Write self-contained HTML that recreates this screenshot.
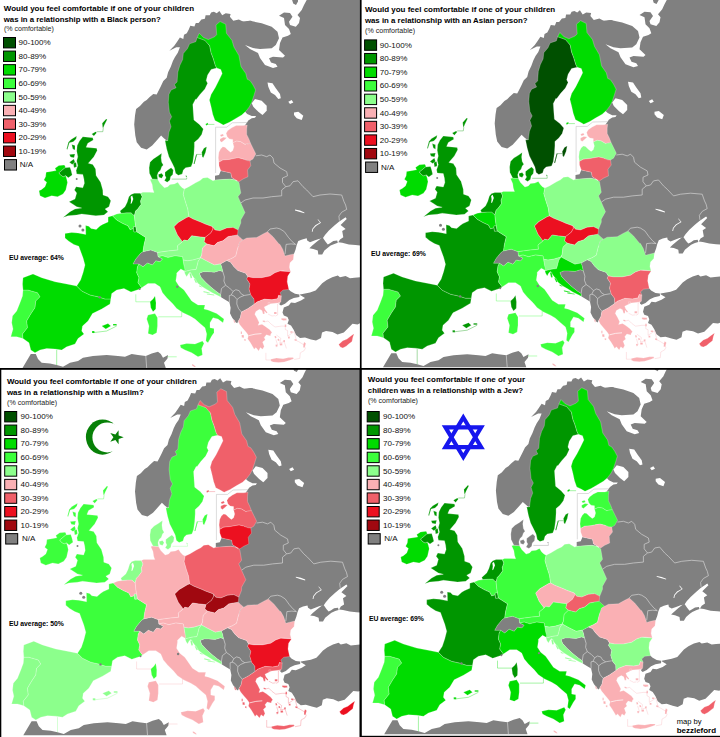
<!DOCTYPE html><html><head><meta charset="utf-8"><title>map</title><style>
html,body{margin:0;padding:0;background:#fff}svg{display:block}text{font-family:"Liberation Sans",sans-serif;fill:#000}.tt{font-size:8.1px;font-weight:bold}.sub{font-size:7.4px;fill:#222}.lb{font-size:8px;fill:#111}.avg{font-size:6.9px;font-weight:bold}.cr{font-size:7.8px}.crb{font-weight:bold}
</style></head><body>
<svg width="720" height="737" viewBox="0 0 720 737">
<rect width="720" height="737" fill="#fff"/>
<clipPath id="c0"><rect x="0" y="0" width="360" height="368.2"/></clipPath>
<g clip-path="url(#c0)"><g transform="translate(0,0)">
<path d="M252.0,21.0 250.0,20.8 244.4,22.2 238.9,19.4 233.3,20.8 229.9,16.7 230.6,13.9 225.7,13.2 222.2,15.3 219.4,11.1 216.7,13.2 213.9,11.8 211.1,12.5 209.7,15.3 205.6,15.3 204.9,18.8 201.4,19.4 198.6,22.9 195.8,22.9 194.4,26.4 190.3,25.7 188.9,29.2 186.8,33.3 184.0,34.7 183.3,38.9 179.9,37.5 177.1,41.7 174.3,45.8 169.4,50.7 176.4,47.2 179.9,47.2 177.8,52.8 175.0,56.9 172.9,61.1 170.8,66.7 168.1,72.2 166.7,77.8 163.3,81.1 160.6,86.7 157.8,92.2 156.7,94.4 153.3,93.9 149.4,97.2 146.7,100.0 143.9,101.7 140.0,106.1 136.1,108.9 135.0,115.6 134.2,124.4 135.3,135.6 136.7,142.2 141.1,147.8 146.7,149.4 152.2,145.6 156.7,140.6 161.1,135.6 163.9,138.3 166.7,140.6 172.0,138.0 178.0,118.0 178.0,98.0 184.0,80.0 188.0,62.0 195.0,48.0 204.0,44.0 214.0,44.0 222.0,38.0 230.0,34.0 240.0,32.0 252.0,32.0Z" fill="#808080"/>
<path d="M238.0,20.0 240.0,21.7 250.0,20.8 261.7,23.3 271.7,26.7 277.5,31.7 279.0,38.3 275.8,45.0 271.7,48.3 260.0,49.0 253.0,48.0 245.0,45.0 250.0,49.0 258.0,53.0 260.0,58.0 265.0,65.0 273.0,68.0 277.5,66.7 275.8,64.0 271.0,62.5 269.0,58.3 273.0,56.7 283.0,57.5 285.0,55.8 279.0,50.0 280.0,43.0 282.5,37.5 288.0,35.8 290.8,34.0 289.0,29.0 285.0,25.0 284.0,18.0 279.0,15.8 284.0,12.5 290.0,13.0 292.5,16.7 289.0,21.7 290.0,25.0 295.8,26.7 299.0,23.0 300.0,18.0 297.5,15.0 301.7,10.0 304.0,5.0 306.7,0.0 362.0,0.0 362.0,245.6 355.6,245.0 348.9,244.4 342.2,242.8 338.3,242.2 340.0,239.4 343.3,237.2 342.2,231.1 345.6,228.9 340.6,225.0 346.7,218.9 345.6,217.2 338.9,221.7 334.4,225.6 328.9,230.6 325.0,235.0 322.8,238.3 318.9,238.9 314.4,240.6 310.0,242.2 307.2,240.6 306.7,238.3 302.2,239.4 298.3,241.1 296.7,245.0 295.6,249.4 293.9,253.9 285.0,262.0 270.0,255.0 250.0,250.0 234.0,245.0 232.0,232.0 234.0,215.0 234.0,185.0 243.0,175.0 243.0,165.0 247.0,150.0 245.0,140.0 243.0,128.0 247.2,122.2 248.3,120.6 251.7,118.3 255.0,117.8 256.1,116.1 251.7,116.1 247.2,113.9 245.6,112.2 242.0,108.0 246.0,95.0 242.0,80.0 236.0,62.0 228.0,45.0 224.0,30.0ZM291.8,-1.0 293.2,3.5 296.0,4.9 298.0,1.4 298.0,-1.0ZM362.0,277.2 354.4,277.8 350.0,278.3 345.6,276.1 340.0,277.2 337.8,275.6 332.2,277.2 326.7,280.0 322.2,283.3 318.9,287.0 315.6,290.6 310.0,292.5 300.0,294.4 300.0,295.0 305.0,298.0 301.0,300.6 295.0,303.0 291.0,302.5 288.8,305.6 283.8,307.5 282.5,312.5 283.8,315.6 287.5,316.9 288.8,320.0 287.5,323.8 291.0,325.6 293.8,330.0 296.0,335.0 300.0,338.0 305.0,337.5 311.0,339.4 316.0,340.6 321.0,338.0 322.0,332.5 326.0,331.0 332.5,332.0 337.5,334.4 343.8,332.5 348.8,327.5 352.5,323.8 357.5,324.4 362.0,322.5ZM288.8,289.4 290.6,291.3 295.0,293.8 299.4,294.4 299.4,296.9 293.8,298.0 289.4,300.0 285.0,303.8 281.0,305.6 279.4,304.4 280.6,299.4 279.0,296.0 279.0,292.7 283.0,289.0 287.0,287.0Z" fill="#808080"/>
<path d="M322.2,237.5 316.7,241.7 312.2,245.6 309.4,248.3 313.3,248.9 317.8,250.6 318.3,254.4 322.2,254.4 324.4,250.6 327.8,247.8 330.6,245.6 334.4,243.9 337.8,242.8 337.2,240.6 333.3,241.1 330.0,243.3 327.8,244.4 325.6,241.7 323.2,238.3Z" fill="#808080"/>
<path d="M226.7,260.6 230.6,262.2 233.9,266.7 237.8,270.6 245.6,273.3 247.8,276.7 246.7,279.0 250.0,284.0 249.0,289.0 250.8,295.0 254.0,299.0 254.2,304.2 247.6,308.7 241.4,312.0 240.3,317.6 238.1,321.4 237.2,323.3 235.6,322.2 232.2,317.8 230.0,313.3 230.6,307.8 229.4,302.2 225.6,300.0 221.1,297.2 220.6,294.4 216.7,291.7 211.1,287.2 205.6,282.2 201.0,277.2 199.4,273.3 203.3,271.7 207.8,271.7 214.4,272.2 220.0,270.6 222.8,271.7 221.7,266.7 220.6,263.9Z" fill="#808080"/>
<path d="M133.0,264.0 135.8,259.0 140.8,253.0 143.0,251.7 150.8,250.0 157.5,252.5 158.0,256.7 162.5,259.0 160.0,261.7 155.8,260.8 152.5,265.0 147.5,263.0 143.0,266.7 139.0,264.0Z" fill="#808080"/>
<path d="M220.8,170.8 225.0,171.7 230.8,173.0 231.7,177.5 235.8,180.0 230.0,179.0 215.0,180.0 215.0,175.8 219.0,175.0Z" fill="#808080"/>
<path d="M22.5,368.0 30.8,354.0 35.8,354.0 38.0,359.0 41.7,362.7 50.0,363.5 56.7,365.0 63.0,366.8 70.0,362.7 78.0,361.0 83.0,357.7 93.0,356.0 106.7,355.0 118.0,356.0 125.0,356.8 131.7,354.0 138.0,355.0 145.8,356.0 151.7,353.5 158.0,351.8 160.8,354.0 163.0,357.7 168.0,355.0 167.5,358.5 164.0,362.7 165.8,368.0Z" fill="#808080"/>
<path d="M295.0,209.6 300.0,210.6 304.4,212.4 304.4,213.2 299.0,211.8 295.0,210.4Z" fill="#fff"/>
<path d="M318.0,219.2 321.0,222.8 316.0,225.9 313.2,229.0 312.6,231.7 311.8,231.7 312.4,228.7 315.3,225.3 320.0,222.6 317.6,219.6Z" fill="#fff"/>
<path d="M267.5,82.5 272.5,83.3 275.8,88.3 280.0,94.0 280.8,98.3 278.3,99.0 275.0,95.0 270.8,92.5 268.3,86.7Z" fill="#fff"/>
<path d="M255.0,99.0 261.7,100.8 266.7,105.8 266.7,110.8 262.5,115.0 258.3,111.7 253.3,106.7 251.7,103.3Z" fill="#fff"/>
<path d="M288.3,101.7 291.7,100.0 293.3,102.5 290.0,104.0Z" fill="#fff"/>
<path d="M294.0,112.5 298.3,111.7 303.3,115.8 301.7,120.0 296.7,118.3 294.0,115.0Z" fill="#fff"/>
<path d="M255.8,155.8 261.7,155.0 266.7,156.7 270.0,155.0 273.0,158.0 274.0,163.0 280.0,168.0 286.7,171.7 287.5,175.8 282.5,178.0 282.5,182.5 285.8,186.7" fill="none" stroke="#dadada" stroke-width="0.65"/>
<path d="M285.8,186.7 281.7,190.0 281.7,195.8 271.7,196.7 263.0,198.0 253.0,198.0 245.0,200.0 240.8,203.0" fill="none" stroke="#dadada" stroke-width="0.65"/>
<path d="M285.8,186.7 290.0,185.8 293.0,181.7 298.0,180.8 303.0,186.7 306.7,190.0 313.0,196.7 320.0,195.0 330.0,194.0 341.7,195.0 344.0,201.7 345.6,205.0 346.7,209.4 341.7,212.2 338.9,216.1 339.4,220.6" fill="none" stroke="#dadada" stroke-width="0.65"/>
<path d="M267.5,231.7 270.0,229.0 276.7,228.0 280.0,228.9 284.4,231.7 288.3,237.2 292.2,241.7 295.6,244.4" fill="none" stroke="#dadada" stroke-width="0.65"/>
<path d="M295.6,244.4 291.1,243.9 286.1,244.4 285.5,250.0 285.0,254.0" fill="none" stroke="#dadada" stroke-width="0.65"/>
<path d="M222.8,271.7 224.4,277.0 223.9,281.0 225.6,285.3 221.5,288.5 220.6,294.4" fill="none" stroke="#dadada" stroke-width="0.65"/>
<path d="M225.6,285.3 229.5,288.0 233.0,291.5 231.3,295.0 229.3,295.6 229.4,302.2" fill="none" stroke="#dadada" stroke-width="0.65"/>
<path d="M231.3,295.0 234.0,296.0 237.0,299.5 236.8,304.0 238.5,308.5 241.4,312.0" fill="none" stroke="#dadada" stroke-width="0.65"/>
<path d="M237.0,299.5 240.0,297.2 244.0,295.5 250.0,294.5" fill="none" stroke="#dadada" stroke-width="0.65"/>
<path d="M233.0,291.5 235.8,289.7 239.2,290.7 240.8,293.5 244.0,295.5" fill="none" stroke="#dadada" stroke-width="0.65"/>
<path d="M145.8,356.0 146.7,368.0" fill="none" stroke="#dadada" stroke-width="0.65"/>
<path d="M55.0,168.3 58.9,165.6 64.4,165.0 65.6,167.2 61.7,170.6 58.9,172.8 60.6,175.0 63.3,176.7 65.6,175.6 66.7,178.9 67.5,182.5 65.8,190.0 63.0,194.0 57.5,196.7 51.7,195.8 45.0,198.0 40.0,195.8 39.0,190.8 41.7,189.4 45.0,186.7 46.7,182.2 43.9,180.0 45.6,176.7 46.1,172.2 49.4,171.7 56.1,170.6Z" fill="#00dc00" stroke="rgba(255,255,255,0.45)" stroke-width="0.5" stroke-linejoin="round"/>
<path d="M82.8,136.7 92.8,137.8 93.3,140.0 87.8,143.3 86.1,147.2 96.7,148.3 97.2,150.6 93.9,156.7 91.1,160.0 88.3,163.3 92.8,164.4 95.6,168.9 96.1,175.6 100.6,182.2 102.8,190.0 103.0,195.0 108.0,196.7 110.8,200.8 109.0,206.7 105.0,209.0 108.0,211.7 104.0,215.0 95.8,215.8 90.0,215.0 81.7,214.0 76.7,215.0 68.0,215.8 63.0,217.5 70.0,211.7 75.0,209.0 81.7,208.0 76.7,206.7 72.5,204.0 69.0,201.7 75.0,199.0 76.7,193.0 74.4,190.0 76.1,186.7 82.8,187.8 84.4,183.3 83.9,178.9 82.8,174.4 76.7,173.9 76.1,170.6 77.8,165.6 76.7,161.1 77.8,156.7 76.7,151.1 77.2,145.6 79.4,141.1ZM58.9,172.8 61.7,170.6 65.0,167.8 70.0,167.2 71.1,170.6 72.2,175.0 68.3,177.8 65.6,175.6 63.3,176.7 60.6,175.0ZM91.7,133.9 95.6,131.7 96.7,132.8 93.9,136.1ZM102.2,123.3 106.1,118.9 107.2,119.4 104.4,125.0 103.3,127.8 102.6,127.5ZM71.1,139.4 76.7,136.1 76.1,138.9 73.3,141.7 69.4,142.8 67.4,149.4 66.6,149.0 68.4,142.2ZM71.7,144.4 75.0,145.6 75.0,150.0 72.8,148.9ZM69.4,154.4 75.0,153.9 74.0,157.8 70.5,157.0ZM69.4,162.2 73.9,158.9 75.0,162.2 72.2,164.4ZM73.3,163.3 76.1,162.2 76.7,166.7 74.0,167.8Z" fill="#009600" stroke="rgba(255,255,255,0.45)" stroke-width="0.5" stroke-linejoin="round"/>
<path d="M23.0,290.0 28.0,290.0 37.5,292.7 40.0,296.8 35.8,301.0 35.0,307.7 30.8,314.0 26.7,321.0 27.5,327.7 22.5,334.0 23.0,338.5 16.7,336.8 10.8,336.8 13.0,329.0 11.7,322.7 12.5,316.0 16.7,311.0 20.0,302.7 22.5,296.0Z" fill="#3cff3c" stroke="rgba(255,255,255,0.45)" stroke-width="0.5" stroke-linejoin="round"/>
<path d="M23.0,277.7 33.0,274.0 41.7,277.7 55.0,281.8 66.7,284.0 76.7,286.0 81.7,291.0 90.0,295.0 98.0,296.8 105.0,299.0 110.8,299.0 110.0,304.0 101.7,309.0 92.5,313.5 88.0,321.0 82.5,326.0 81.7,331.0 84.0,334.0 78.0,338.5 75.0,344.0 66.7,346.8 61.7,350.0 55.0,349.0 46.7,348.5 40.0,350.0 35.0,352.7 30.8,350.0 29.0,342.7 23.0,338.5 22.5,334.0 27.5,327.7 26.7,321.0 30.8,314.0 35.0,307.7 35.8,301.0 40.0,296.8 37.5,292.7 28.0,290.0 23.0,290.0 22.5,284.0ZM101.7,326.0 108.0,323.5 110.8,326.0 105.8,329.0ZM113.0,324.0 116.7,324.0 116.7,325.5 113.0,325.5ZM92.0,331.0 94.5,331.0 94.5,333.0 92.0,333.0Z" fill="#00dc00" stroke="rgba(255,255,255,0.45)" stroke-width="0.5" stroke-linejoin="round"/>
<path d="M108.1,216.9 112.5,215.8 116.7,220.0 122.5,223.3 128.0,225.8 130.0,229.5 133.5,228.5 134.0,232.0 136.7,231.7 145.8,237.5 144.0,245.0 143.0,251.7 140.8,253.0 135.8,259.0 133.0,264.0 139.0,264.0 137.5,266.8 136.7,272.7 139.0,277.7 138.0,282.7 141.7,287.7 140.0,289.0 131.0,292.0 124.0,288.5 116.7,290.0 111.7,293.5 110.8,299.0 105.0,299.0 98.0,296.8 90.0,295.0 81.7,291.0 76.7,286.0 80.6,280.0 83.1,272.5 85.0,265.0 83.1,258.0 80.6,251.2 78.8,246.2 73.8,244.4 68.8,241.2 65.0,238.0 65.0,233.5 71.7,232.5 78.0,233.0 85.8,234.5 85.6,225.6 88.8,226.2 91.0,228.5 96.2,229.4 100.0,226.0 102.5,224.4 108.1,221.9ZM155.0,296.0 156.0,302.7 155.8,309.0 153.0,311.8 150.8,307.7 150.0,301.8 153.0,299.0Z" fill="#00dc00" stroke="rgba(255,255,255,0.45)" stroke-width="0.5" stroke-linejoin="round"/>
<path d="M112.5,215.8 116.7,214.0 121.1,213.3 126.7,212.8 131.1,212.8 132.8,214.4 134.4,215.6 135.0,221.7 135.8,226.7 133.5,226.7 133.5,228.5 130.0,229.5 128.0,225.8 122.5,223.3 116.7,220.0Z" fill="#3cff3c" stroke="rgba(255,255,255,0.45)" stroke-width="0.5" stroke-linejoin="round"/>
<path d="M131.1,194.4 134.4,193.3 140.6,193.3 142.2,196.7 140.6,201.1 141.1,204.4 137.8,208.9 135.6,211.1 134.4,215.6 132.8,214.4 131.1,212.8 126.7,212.8 121.1,213.3 120.0,211.1 125.0,206.7 127.2,202.2 128.9,196.7Z" fill="#009600" stroke="rgba(255,255,255,0.45)" stroke-width="0.5" stroke-linejoin="round"/>
<path d="M133.5,226.7 135.8,226.7 136.7,231.7 134.0,232.0 133.5,228.5Z" fill="#009600" stroke="rgba(255,255,255,0.45)" stroke-width="0.5" stroke-linejoin="round"/>
<path d="M150.0,179.4 152.2,178.9 157.8,179.4 160.0,183.3 164.4,187.8 167.8,186.7 170.0,184.4 174.4,183.9 177.8,182.2 180.0,185.6 182.2,187.8 184.4,188.9 183.3,194.4 185.6,202.2 187.8,208.9 188.9,216.7 186.7,217.5 178.0,222.5 174.0,226.7 177.5,235.0 182.5,241.7 177.5,245.8 178.0,250.0 170.0,250.8 163.0,251.7 157.5,252.5 150.8,250.0 143.0,251.7 144.0,245.0 145.8,237.5 136.7,231.7 135.8,226.7 135.0,221.7 134.4,215.6 135.6,211.1 137.8,208.9 141.1,204.4 140.6,201.1 142.2,196.7 140.6,193.3 142.8,192.2 149.4,192.2 154.0,192.4 152.8,188.9 152.2,184.4Z" fill="#8cff8c" stroke="rgba(255,255,255,0.45)" stroke-width="0.5" stroke-linejoin="round"/>
<path d="M161.7,153.3 157.8,156.1 153.3,158.9 150.0,162.2 149.1,167.8 149.4,173.3 152.2,178.9 157.8,179.4 157.2,175.6 158.3,172.2 160.6,170.0 161.7,166.7 163.3,165.0 161.7,162.2 161.1,157.8ZM158.3,174.4 161.7,173.3 163.3,175.6 161.7,178.3 158.9,177.2ZM165.0,172.2 167.8,170.0 171.1,167.8 173.3,170.0 172.8,174.4 170.6,176.7 170.0,180.0 167.2,182.2 164.4,180.6 166.1,177.8 165.0,175.6ZM185.6,175.6 186.6,175.8 187.2,177.2 186.0,177.0Z" fill="#009600" stroke="rgba(255,255,255,0.45)" stroke-width="0.5" stroke-linejoin="round"/>
<path d="M197.2,37.5 195.8,41.7 189.6,43.8 187.5,48.6 183.3,53.5 182.6,59.7 179.9,65.3 177.8,72.2 177.1,81.9 174.4,84.4 176.1,87.8 171.1,90.0 168.9,94.4 168.3,102.2 169.4,112.2 171.7,116.7 169.4,121.1 171.1,126.7 168.9,132.2 167.8,140.6 165.0,140.6 166.7,148.9 168.9,156.7 172.2,163.3 174.4,167.8 175.6,173.3 178.3,175.3 182.2,173.9 183.3,170.0 185.6,167.8 191.1,166.7 192.8,162.2 193.9,154.4 194.4,146.7 194.4,142.2 198.3,138.9 201.7,134.4 203.3,128.9 199.4,124.4 193.9,120.0 193.3,112.2 192.8,104.4 195.6,98.9 195.8,100.0 200.0,94.4 204.9,88.9 207.6,83.3 206.2,80.6 207.6,75.0 211.1,69.4 216.7,68.0 215.3,65.3 213.2,58.3 211.1,52.8 209.7,45.8 204.9,40.3ZM205.6,147.2 206.7,146.7 205.6,152.2 203.3,157.8 202.2,156.7 201.7,152.2 203.9,148.3ZM196.1,154.4 196.9,154.6 194.6,163.9 193.8,163.7Z" fill="#009600" stroke="rgba(255,255,255,0.45)" stroke-width="0.5" stroke-linejoin="round"/>
<path d="M216.0,25.0 220.1,21.5 225.7,24.3 226.4,33.3 231.9,40.3 234.0,47.2 238.9,55.6 241.0,66.7 245.8,73.6 247.2,79.2 250.0,80.6 253.0,85.0 255.6,90.0 253.9,95.6 251.7,102.2 249.4,106.7 246.1,111.1 241.7,115.0 235.0,118.9 229.4,122.2 223.3,125.0 219.4,122.8 215.0,120.6 212.8,114.4 211.1,106.7 209.4,100.0 211.1,94.4 215.3,87.5 218.8,80.6 222.2,73.6 220.8,69.4 216.7,68.0 215.3,65.3 213.2,58.3 211.1,52.8 209.7,45.8 204.9,40.3 197.2,37.5 199.3,33.3 203.5,37.5 208.3,39.6 214.6,36.8 216.7,34.7ZM205.6,123.9 207.8,122.8 208.3,124.4 206.1,125.6Z" fill="#00dc00" stroke="rgba(255,255,255,0.45)" stroke-width="0.5" stroke-linejoin="round"/>
<path d="M247.2,125.0 242.8,125.6 236.1,125.6 231.7,127.8 227.8,130.6 226.1,133.3 227.2,136.7 229.4,138.9 232.8,139.4 232.8,142.8 236.7,141.1 240.6,141.7 245.0,144.4 250.6,143.3 248.9,138.9 246.7,134.4 246.7,128.9ZM220.0,135.0 222.8,133.9 223.9,135.6 221.1,136.7ZM220.0,138.9 223.3,137.2 226.7,137.8 224.4,140.0 221.7,142.2 220.0,141.0Z" fill="#fab0b4" stroke="rgba(255,255,255,0.45)" stroke-width="0.5" stroke-linejoin="round"/>
<path d="M232.8,142.8 236.7,141.1 240.6,141.7 245.0,144.4 250.6,143.3 252.8,147.8 255.0,152.2 255.8,154.0 253.0,159.0 250.0,160.8 247.2,160.6 242.8,158.9 238.3,157.8 235.0,158.3 229.4,159.4 222.8,160.0 218.9,162.2 218.3,157.8 218.9,152.2 220.6,148.9 222.8,146.7 225.0,147.2 227.8,150.0 230.6,152.2 232.8,150.6 233.9,146.7Z" fill="#fab0b4" stroke="rgba(255,255,255,0.45)" stroke-width="0.5" stroke-linejoin="round"/>
<path d="M218.9,162.2 222.8,160.0 229.4,159.4 235.0,158.3 238.3,157.8 242.8,158.9 247.2,160.6 250.0,160.8 250.8,165.8 247.5,170.0 248.0,176.7 243.0,179.0 239.0,181.7 235.8,180.0 231.7,177.5 230.8,173.0 225.0,171.7 220.8,170.8 219.0,165.8Z" fill="#f0606a" stroke="rgba(255,255,255,0.45)" stroke-width="0.5" stroke-linejoin="round"/>
<path d="M184.4,188.9 188.9,186.7 195.6,182.8 200.0,180.6 203.0,178.0 207.5,177.5 213.0,180.8 215.0,180.0 230.0,179.0 235.0,180.0 239.0,182.5 240.8,193.0 238.0,196.7 240.8,203.0 245.0,212.5 240.8,220.0 240.8,223.0 238.0,230.0 233.0,227.5 226.7,228.0 220.0,230.8 215.0,230.0 212.5,226.7 205.0,224.0 201.7,222.5 193.0,219.0 188.9,216.7 187.8,208.9 185.6,202.2 183.3,194.4Z" fill="#8cff8c" stroke="rgba(255,255,255,0.45)" stroke-width="0.5" stroke-linejoin="round"/>
<path d="M174.0,226.7 178.3,222.5 186.7,217.5 188.9,216.7 193.0,219.0 201.7,222.5 205.0,224.0 212.5,226.7 213.0,229.0 210.8,233.0 205.0,237.5 198.0,236.7 191.7,235.8 187.5,240.8 184.0,240.0 182.5,241.7 177.5,235.0Z" fill="#ec1020" stroke="rgba(255,255,255,0.45)" stroke-width="0.5" stroke-linejoin="round"/>
<path d="M213.0,229.0 212.5,226.7 215.0,230.0 220.0,230.8 226.7,228.0 233.0,227.5 238.0,230.0 237.5,235.0 233.0,235.8 228.0,236.7 223.0,240.8 217.5,242.5 214.0,245.8 206.7,244.0 204.0,241.7 205.0,237.5 210.8,233.0Z" fill="#ec1020" stroke="rgba(255,255,255,0.45)" stroke-width="0.5" stroke-linejoin="round"/>
<path d="M157.5,252.5 163.0,251.7 170.0,250.8 178.0,250.0 177.5,245.8 182.5,241.7 184.0,240.0 187.5,240.8 191.7,235.8 198.0,236.7 205.0,237.5 204.0,241.7 206.7,244.0 202.5,248.0 201.7,255.0 200.0,258.0 193.0,260.0 187.5,260.8 183.0,260.0 182.5,256.7 175.0,255.8 168.0,257.5 162.5,255.8 158.0,256.7Z" fill="#8cff8c" stroke="rgba(255,255,255,0.45)" stroke-width="0.5" stroke-linejoin="round"/>
<path d="M206.7,244.0 214.0,245.8 217.5,242.5 223.0,240.8 228.0,236.7 233.0,235.8 237.5,235.0 240.0,237.5 243.0,240.0 240.0,241.7 237.5,249.0 235.8,256.0 231.7,258.5 226.7,260.6 220.6,263.9 214.4,265.0 206.7,261.1 200.6,257.8 201.7,255.0 202.5,248.0Z" fill="#fab0b4" stroke="rgba(255,255,255,0.45)" stroke-width="0.5" stroke-linejoin="round"/>
<path d="M183.0,260.0 187.5,260.8 193.0,260.0 200.0,258.0 200.6,257.8 198.3,261.1 197.2,265.6 196.1,269.4 191.1,270.0 186.7,271.1 184.4,271.7 183.9,270.0 184.0,265.8Z" fill="#8cff8c" stroke="rgba(255,255,255,0.45)" stroke-width="0.5" stroke-linejoin="round"/>
<path d="M200.6,257.8 206.7,261.1 214.4,265.0 220.6,263.9 221.7,266.7 222.8,271.7 220.0,270.6 214.4,272.2 207.8,271.7 203.3,271.7 199.4,273.3 201.0,277.2 205.6,282.2 211.1,287.2 216.7,291.7 220.6,294.4 221.1,297.2 217.8,295.6 212.2,292.8 206.7,289.4 202.2,286.7 197.8,283.3 195.0,279.4 192.2,275.6 190.0,272.2 188.3,273.9 186.7,276.7 185.0,273.9 184.4,271.7 186.7,271.1 191.1,270.0 196.1,269.4 197.2,265.6 198.3,261.1ZM189.4,273.3 191.2,273.0 192.2,278.0 190.6,278.2ZM193.8,279.0 195.4,278.8 197.2,282.6 195.8,283.0ZM198.9,285.3 201.5,286.6 202.0,287.6 199.2,286.6ZM203.3,291.0 209.5,292.5 210.0,293.5 203.6,292.2ZM206.7,293.4 214.0,294.6 214.4,295.4 207.0,294.4Z" fill="#8cff8c" stroke="rgba(255,255,255,0.45)" stroke-width="0.5" stroke-linejoin="round"/>
<path d="M137.5,266.8 139.0,264.0 143.0,266.7 147.5,263.0 152.5,265.0 155.8,260.8 160.0,261.7 162.5,259.0 158.0,256.7 162.5,255.8 168.0,257.5 175.0,255.8 182.5,256.7 183.0,260.0 184.0,265.8 185.0,270.0 184.0,270.8 180.8,269.0 176.7,273.0 176.7,275.0 175.8,281.0 179.0,286.0 184.0,290.0 187.5,295.0 191.7,301.0 198.0,305.0 205.0,305.0 204.0,309.0 208.0,310.0 216.7,313.5 224.0,319.0 223.0,322.7 218.0,319.0 213.0,317.7 210.0,322.7 210.0,327.7 214.0,328.5 214.0,332.7 211.7,336.0 208.0,342.7 205.8,341.0 206.7,334.0 205.0,327.7 200.0,323.5 195.0,319.0 190.0,316.0 183.0,312.7 176.7,308.5 172.5,303.5 166.7,297.7 162.5,292.7 160.0,286.8 155.0,283.5 148.0,283.5 141.7,287.7 138.0,282.7 139.0,277.7 136.7,272.7ZM148.0,315.0 155.0,313.5 157.5,317.7 157.5,326.0 156.7,332.7 152.5,335.0 148.0,333.5 149.0,326.0 146.7,319.0ZM180.0,345.0 186.7,343.5 195.0,344.0 202.5,341.0 204.0,343.5 201.7,348.5 202.5,355.0 198.0,356.8 191.7,352.7 185.0,350.0 180.8,347.7Z" fill="#3cff3c" stroke="rgba(255,255,255,0.45)" stroke-width="0.5" stroke-linejoin="round"/>
<path d="M240.0,241.7 243.0,240.0 246.7,238.0 256.7,237.5 263.0,234.0 267.5,231.7 273.0,236.7 279.0,244.0 280.0,244.4 282.8,249.4 285.0,256.1 288.9,255.0 293.9,253.9 293.3,259.4 290.0,262.8 289.4,267.2 290.6,271.7 283.0,270.8 280.0,271.0 275.0,272.7 270.0,276.0 261.7,277.7 253.0,277.7 247.8,276.7 245.6,273.3 237.8,270.6 233.9,266.7 230.6,262.2 226.7,260.6 231.7,258.5 235.8,256.0 237.5,249.0Z" fill="#fab0b4" stroke="rgba(255,255,255,0.45)" stroke-width="0.5" stroke-linejoin="round"/>
<path d="M247.8,276.7 253.0,277.7 261.7,277.7 270.0,276.0 275.0,272.7 280.0,271.0 290.6,271.7 287.8,276.1 287.2,281.7 288.3,287.0 288.8,289.4 283.0,290.0 280.0,292.7 281.4,295.9 278.7,295.3 277.6,298.7 272.0,299.8 264.2,299.2 257.0,302.0 254.2,304.2 254.0,299.0 250.8,295.0 249.0,289.0 250.0,284.0 246.7,279.0Z" fill="#ec1020" stroke="rgba(255,255,255,0.45)" stroke-width="0.5" stroke-linejoin="round"/>
<path d="M241.4,312.0 247.6,308.7 254.2,304.2 257.0,302.0 264.2,299.2 272.0,299.8 277.6,298.7 278.7,295.3 281.4,295.9 280.9,302.0 277.6,303.1 270.9,303.7 267.6,305.3 264.2,307.0 265.3,309.8 267.5,312.5 266.5,313.3 264.5,311.0 264.5,314.0 263.0,314.0 262.0,310.5 259.5,309.3 255.9,311.4 254.8,314.2 257.0,318.1 259.2,322.6 258.1,325.3 262.0,324.2 265.3,326.4 269.8,329.8 272.0,332.6 270.9,333.7 270.3,335.9 266.4,334.8 264.2,337.6 265.3,339.8 262.6,342.0 264.2,346.4 262.6,349.2 260.3,347.6 258.7,350.9 255.9,347.6 254.2,349.2 252.6,346.4 250.3,342.6 247.6,338.7 248.5,335.5 246.4,332.6 243.1,328.7 239.8,324.8 238.1,321.4 240.3,317.6ZM270.9,359.2 276.4,358.1 283.1,358.7 288.7,357.6 293.1,357.6 293.7,358.7 289.8,360.3 284.2,362.0 278.7,362.6 273.1,362.0 270.9,361.0ZM281.4,318.3 286.4,318.5 286.6,320.2 283.5,320.6 281.4,319.8ZM284.8,324.5 286.2,324.5 286.3,327.0 284.8,327.0ZM290.3,331.3 292.6,331.3 292.6,332.8 290.3,332.8ZM304.2,342.0 305.9,343.5 304.6,347.6 303.2,347.6 303.4,344.2ZM233.2,319.5 234.6,320.3 235.5,323.0 234.2,322.8ZM241.6,335.0 243.8,335.0 244.0,337.8 241.8,337.5ZM244.2,339.0 245.8,339.2 245.6,341.0 244.2,340.6ZM240.8,331.5 242.0,331.5 242.0,334.0 240.8,334.0ZM268.0,302.6 270.0,302.6 270.0,304.4 268.0,304.4ZM274.0,312.0 276.6,312.0 276.6,314.0 274.0,314.0ZM274.5,336.0 276.0,336.0 276.5,338.0 275.0,338.3ZM277.5,339.0 279.0,338.8 279.6,340.6 278.0,341.0ZM279.5,343.5 282.2,343.2 282.4,345.2 280.0,345.5ZM283.2,340.2 285.0,340.0 285.0,342.0 283.4,342.0ZM275.5,344.8 277.2,344.6 277.4,346.4 275.7,346.6ZM288.0,336.6 289.8,336.6 289.8,338.4 288.0,338.4ZM294.5,339.0 296.8,339.5 296.4,341.0 294.5,340.6ZM262.8,320.5 265.0,320.7 264.8,322.0 262.8,321.8Z" fill="#fab0b4" stroke="rgba(255,255,255,0.45)" stroke-width="0.5" stroke-linejoin="round"/>
<path d="M338.7,344.5 342.8,340.8 347.0,339.1 351.2,335.8 354.1,333.7 352.8,337.5 352.0,341.6 348.7,344.1 346.2,346.2 342.8,347.9 340.3,347.0Z" fill="#f0606a" stroke="rgba(255,255,255,0.45)" stroke-width="0.5" stroke-linejoin="round"/>
<path d="M192.0,364.0 194.0,365.0 196.0,367.0 194.5,367.0 192.0,365.5Z" fill="#fab0b4" stroke="rgba(255,255,255,0.45)" stroke-width="0.5" stroke-linejoin="round"/>
<path d="M130.6,196.7 132.2,195.6 133.3,198.9 131.7,203.3 130.6,203.9 131.1,200.0Z" fill="#fff"/>
<circle cx="99.7" cy="297.2" r="1.2" fill="#808080"/>
<circle cx="139.7" cy="289" r="1.0" fill="#808080"/>
<circle cx="177.3" cy="286.8" r="1.2" fill="#808080"/>
<circle cx="80" cy="226" r="1.5" fill="#808080"/>
<circle cx="82.9" cy="230" r="1.5" fill="#808080"/>
<circle cx="76.7" cy="178.9" r="1.0" fill="#808080"/>
<path d="M280.9,302.0 277.6,303.9 277.6,315.0 275.3,316.1" fill="none" stroke="#fab0b4" stroke-opacity="0.55" stroke-width="0.6"/>
<path d="M281.4,326.1 285.3,326.1 285.3,329.5 287.6,330.6 287.6,336.1 292.6,332.8 294.2,331.7 296.4,340.6 298.7,341.7 304.2,345.0 305.3,348.4 304.2,350.6 300.3,352.8 299.8,358.4 294.2,359.5" fill="none" stroke="#fab0b4" stroke-opacity="0.55" stroke-width="0.6"/>
<path d="M265.9,352.8 265.9,360.0 272.0,360.0" fill="none" stroke="#fab0b4" stroke-opacity="0.55" stroke-width="0.6"/>
<path d="M276.4,335.0 280.9,338.4 279.8,342.8 284.2,341.7 285.3,345.0 286.4,348.4" fill="none" stroke="#fab0b4" stroke-opacity="0.55" stroke-width="0.6"/>
<path d="M275.9,339.5 277.6,345.0 276.4,347.2" fill="none" stroke="#fab0b4" stroke-opacity="0.55" stroke-width="0.6"/>
<path d="M268.0,314.0 272.0,316.0 274.8,315.6" fill="none" stroke="#fab0b4" stroke-opacity="0.55" stroke-width="0.6"/>
<path d="M264.0,322.0 268.0,321.0 271.0,324.0 275.0,327.0 281.4,326.1" fill="none" stroke="#fab0b4" stroke-opacity="0.55" stroke-width="0.6"/>
<path d="M249.0,335.6 255.0,334.2 261.5,333.6" fill="none" stroke="#fff" stroke-width="0.7"/>
<path d="M135.8,294.3 135.8,301.8 150.0,301.8" fill="none" stroke="#3cff3c" stroke-opacity="0.6" stroke-width="0.6"/>
<path d="M158.3,316.8 181.7,316.8 181.7,311.8" fill="none" stroke="#3cff3c" stroke-opacity="0.6" stroke-width="0.6"/>
<path d="M167.5,356.8 176.7,356.8" fill="none" stroke="#3cff3c" stroke-opacity="0.6" stroke-width="0.6"/>
<path d="M56.7,350.0 56.7,365.0" fill="none" stroke="#00dc00" stroke-opacity="0.6" stroke-width="0.6"/>
<path d="M93.0,332.7 106.7,331.0 116.7,326.0" fill="none" stroke="#00dc00" stroke-opacity="0.6" stroke-width="0.6"/>
<path d="M96.7,131.7 102.8,131.7 103.3,127.8" fill="none" stroke="#009600" stroke-opacity="0.6" stroke-width="0.6"/>
<path d="M208.3,124.4 214.4,124.4" fill="none" stroke="#00dc00" stroke-opacity="0.6" stroke-width="0.6"/>
<path d="M193.9,163.9 196.7,154.4 201.7,154.4" fill="none" stroke="#009600" stroke-opacity="0.6" stroke-width="0.6"/>
<path d="M171.7,179.1 186.7,179.1 186.7,177.8" fill="none" stroke="#009600" stroke-opacity="0.6" stroke-width="0.6"/>
<path d="M215.6,173.0 215.6,127.2 226.7,127.2 232.2,122.8 247.2,122.5" fill="none" stroke="#b8b8b8" stroke-width="0.5"/>
</g></g>
<clipPath id="c1"><rect x="360" y="0" width="360" height="368.2"/></clipPath>
<g clip-path="url(#c1)"><g transform="translate(360.5,-0.8)">
<path d="M252.0,21.0 250.0,20.8 244.4,22.2 238.9,19.4 233.3,20.8 229.9,16.7 230.6,13.9 225.7,13.2 222.2,15.3 219.4,11.1 216.7,13.2 213.9,11.8 211.1,12.5 209.7,15.3 205.6,15.3 204.9,18.8 201.4,19.4 198.6,22.9 195.8,22.9 194.4,26.4 190.3,25.7 188.9,29.2 186.8,33.3 184.0,34.7 183.3,38.9 179.9,37.5 177.1,41.7 174.3,45.8 169.4,50.7 176.4,47.2 179.9,47.2 177.8,52.8 175.0,56.9 172.9,61.1 170.8,66.7 168.1,72.2 166.7,77.8 163.3,81.1 160.6,86.7 157.8,92.2 156.7,94.4 153.3,93.9 149.4,97.2 146.7,100.0 143.9,101.7 140.0,106.1 136.1,108.9 135.0,115.6 134.2,124.4 135.3,135.6 136.7,142.2 141.1,147.8 146.7,149.4 152.2,145.6 156.7,140.6 161.1,135.6 163.9,138.3 166.7,140.6 172.0,138.0 178.0,118.0 178.0,98.0 184.0,80.0 188.0,62.0 195.0,48.0 204.0,44.0 214.0,44.0 222.0,38.0 230.0,34.0 240.0,32.0 252.0,32.0Z" fill="#808080"/>
<path d="M238.0,20.0 240.0,21.7 250.0,20.8 261.7,23.3 271.7,26.7 277.5,31.7 279.0,38.3 275.8,45.0 271.7,48.3 260.0,49.0 253.0,48.0 245.0,45.0 250.0,49.0 258.0,53.0 260.0,58.0 265.0,65.0 273.0,68.0 277.5,66.7 275.8,64.0 271.0,62.5 269.0,58.3 273.0,56.7 283.0,57.5 285.0,55.8 279.0,50.0 280.0,43.0 282.5,37.5 288.0,35.8 290.8,34.0 289.0,29.0 285.0,25.0 284.0,18.0 279.0,15.8 284.0,12.5 290.0,13.0 292.5,16.7 289.0,21.7 290.0,25.0 295.8,26.7 299.0,23.0 300.0,18.0 297.5,15.0 301.7,10.0 304.0,5.0 306.7,0.0 362.0,0.0 362.0,245.6 355.6,245.0 348.9,244.4 342.2,242.8 338.3,242.2 340.0,239.4 343.3,237.2 342.2,231.1 345.6,228.9 340.6,225.0 346.7,218.9 345.6,217.2 338.9,221.7 334.4,225.6 328.9,230.6 325.0,235.0 322.8,238.3 318.9,238.9 314.4,240.6 310.0,242.2 307.2,240.6 306.7,238.3 302.2,239.4 298.3,241.1 296.7,245.0 295.6,249.4 293.9,253.9 285.0,262.0 270.0,255.0 250.0,250.0 234.0,245.0 232.0,232.0 234.0,215.0 234.0,185.0 243.0,175.0 243.0,165.0 247.0,150.0 245.0,140.0 243.0,128.0 247.2,122.2 248.3,120.6 251.7,118.3 255.0,117.8 256.1,116.1 251.7,116.1 247.2,113.9 245.6,112.2 242.0,108.0 246.0,95.0 242.0,80.0 236.0,62.0 228.0,45.0 224.0,30.0ZM291.8,-1.0 293.2,3.5 296.0,4.9 298.0,1.4 298.0,-1.0ZM362.0,277.2 354.4,277.8 350.0,278.3 345.6,276.1 340.0,277.2 337.8,275.6 332.2,277.2 326.7,280.0 322.2,283.3 318.9,287.0 315.6,290.6 310.0,292.5 300.0,294.4 300.0,295.0 305.0,298.0 301.0,300.6 295.0,303.0 291.0,302.5 288.8,305.6 283.8,307.5 282.5,312.5 283.8,315.6 287.5,316.9 288.8,320.0 287.5,323.8 291.0,325.6 293.8,330.0 296.0,335.0 300.0,338.0 305.0,337.5 311.0,339.4 316.0,340.6 321.0,338.0 322.0,332.5 326.0,331.0 332.5,332.0 337.5,334.4 343.8,332.5 348.8,327.5 352.5,323.8 357.5,324.4 362.0,322.5ZM288.8,289.4 290.6,291.3 295.0,293.8 299.4,294.4 299.4,296.9 293.8,298.0 289.4,300.0 285.0,303.8 281.0,305.6 279.4,304.4 280.6,299.4 279.0,296.0 279.0,292.7 283.0,289.0 287.0,287.0Z" fill="#808080"/>
<path d="M322.2,237.5 316.7,241.7 312.2,245.6 309.4,248.3 313.3,248.9 317.8,250.6 318.3,254.4 322.2,254.4 324.4,250.6 327.8,247.8 330.6,245.6 334.4,243.9 337.8,242.8 337.2,240.6 333.3,241.1 330.0,243.3 327.8,244.4 325.6,241.7 323.2,238.3Z" fill="#808080"/>
<path d="M226.7,260.6 230.6,262.2 233.9,266.7 237.8,270.6 245.6,273.3 247.8,276.7 246.7,279.0 250.0,284.0 249.0,289.0 250.8,295.0 254.0,299.0 254.2,304.2 247.6,308.7 241.4,312.0 240.3,317.6 238.1,321.4 237.2,323.3 235.6,322.2 232.2,317.8 230.0,313.3 230.6,307.8 229.4,302.2 225.6,300.0 221.1,297.2 220.6,294.4 216.7,291.7 211.1,287.2 205.6,282.2 201.0,277.2 199.4,273.3 203.3,271.7 207.8,271.7 214.4,272.2 220.0,270.6 222.8,271.7 221.7,266.7 220.6,263.9Z" fill="#808080"/>
<path d="M133.0,264.0 135.8,259.0 140.8,253.0 143.0,251.7 150.8,250.0 157.5,252.5 158.0,256.7 162.5,259.0 160.0,261.7 155.8,260.8 152.5,265.0 147.5,263.0 143.0,266.7 139.0,264.0Z" fill="#808080"/>
<path d="M220.8,170.8 225.0,171.7 230.8,173.0 231.7,177.5 235.8,180.0 230.0,179.0 215.0,180.0 215.0,175.8 219.0,175.0Z" fill="#808080"/>
<path d="M22.5,368.0 30.8,354.0 35.8,354.0 38.0,359.0 41.7,362.7 50.0,363.5 56.7,365.0 63.0,366.8 70.0,362.7 78.0,361.0 83.0,357.7 93.0,356.0 106.7,355.0 118.0,356.0 125.0,356.8 131.7,354.0 138.0,355.0 145.8,356.0 151.7,353.5 158.0,351.8 160.8,354.0 163.0,357.7 168.0,355.0 167.5,358.5 164.0,362.7 165.8,368.0Z" fill="#808080"/>
<path d="M295.0,209.6 300.0,210.6 304.4,212.4 304.4,213.2 299.0,211.8 295.0,210.4Z" fill="#fff"/>
<path d="M318.0,219.2 321.0,222.8 316.0,225.9 313.2,229.0 312.6,231.7 311.8,231.7 312.4,228.7 315.3,225.3 320.0,222.6 317.6,219.6Z" fill="#fff"/>
<path d="M267.5,82.5 272.5,83.3 275.8,88.3 280.0,94.0 280.8,98.3 278.3,99.0 275.0,95.0 270.8,92.5 268.3,86.7Z" fill="#fff"/>
<path d="M255.0,99.0 261.7,100.8 266.7,105.8 266.7,110.8 262.5,115.0 258.3,111.7 253.3,106.7 251.7,103.3Z" fill="#fff"/>
<path d="M288.3,101.7 291.7,100.0 293.3,102.5 290.0,104.0Z" fill="#fff"/>
<path d="M294.0,112.5 298.3,111.7 303.3,115.8 301.7,120.0 296.7,118.3 294.0,115.0Z" fill="#fff"/>
<path d="M255.8,155.8 261.7,155.0 266.7,156.7 270.0,155.0 273.0,158.0 274.0,163.0 280.0,168.0 286.7,171.7 287.5,175.8 282.5,178.0 282.5,182.5 285.8,186.7" fill="none" stroke="#dadada" stroke-width="0.65"/>
<path d="M285.8,186.7 281.7,190.0 281.7,195.8 271.7,196.7 263.0,198.0 253.0,198.0 245.0,200.0 240.8,203.0" fill="none" stroke="#dadada" stroke-width="0.65"/>
<path d="M285.8,186.7 290.0,185.8 293.0,181.7 298.0,180.8 303.0,186.7 306.7,190.0 313.0,196.7 320.0,195.0 330.0,194.0 341.7,195.0 344.0,201.7 345.6,205.0 346.7,209.4 341.7,212.2 338.9,216.1 339.4,220.6" fill="none" stroke="#dadada" stroke-width="0.65"/>
<path d="M267.5,231.7 270.0,229.0 276.7,228.0 280.0,228.9 284.4,231.7 288.3,237.2 292.2,241.7 295.6,244.4" fill="none" stroke="#dadada" stroke-width="0.65"/>
<path d="M295.6,244.4 291.1,243.9 286.1,244.4 285.5,250.0 285.0,254.0" fill="none" stroke="#dadada" stroke-width="0.65"/>
<path d="M222.8,271.7 224.4,277.0 223.9,281.0 225.6,285.3 221.5,288.5 220.6,294.4" fill="none" stroke="#dadada" stroke-width="0.65"/>
<path d="M225.6,285.3 229.5,288.0 233.0,291.5 231.3,295.0 229.3,295.6 229.4,302.2" fill="none" stroke="#dadada" stroke-width="0.65"/>
<path d="M231.3,295.0 234.0,296.0 237.0,299.5 236.8,304.0 238.5,308.5 241.4,312.0" fill="none" stroke="#dadada" stroke-width="0.65"/>
<path d="M237.0,299.5 240.0,297.2 244.0,295.5 250.0,294.5" fill="none" stroke="#dadada" stroke-width="0.65"/>
<path d="M233.0,291.5 235.8,289.7 239.2,290.7 240.8,293.5 244.0,295.5" fill="none" stroke="#dadada" stroke-width="0.65"/>
<path d="M145.8,356.0 146.7,368.0" fill="none" stroke="#dadada" stroke-width="0.65"/>
<path d="M55.0,168.3 58.9,165.6 64.4,165.0 65.6,167.2 61.7,170.6 58.9,172.8 60.6,175.0 63.3,176.7 65.6,175.6 66.7,178.9 67.5,182.5 65.8,190.0 63.0,194.0 57.5,196.7 51.7,195.8 45.0,198.0 40.0,195.8 39.0,190.8 41.7,189.4 45.0,186.7 46.7,182.2 43.9,180.0 45.6,176.7 46.1,172.2 49.4,171.7 56.1,170.6Z" fill="#00dc00" stroke="rgba(255,255,255,0.45)" stroke-width="0.5" stroke-linejoin="round"/>
<path d="M82.8,136.7 92.8,137.8 93.3,140.0 87.8,143.3 86.1,147.2 96.7,148.3 97.2,150.6 93.9,156.7 91.1,160.0 88.3,163.3 92.8,164.4 95.6,168.9 96.1,175.6 100.6,182.2 102.8,190.0 103.0,195.0 108.0,196.7 110.8,200.8 109.0,206.7 105.0,209.0 108.0,211.7 104.0,215.0 95.8,215.8 90.0,215.0 81.7,214.0 76.7,215.0 68.0,215.8 63.0,217.5 70.0,211.7 75.0,209.0 81.7,208.0 76.7,206.7 72.5,204.0 69.0,201.7 75.0,199.0 76.7,193.0 74.4,190.0 76.1,186.7 82.8,187.8 84.4,183.3 83.9,178.9 82.8,174.4 76.7,173.9 76.1,170.6 77.8,165.6 76.7,161.1 77.8,156.7 76.7,151.1 77.2,145.6 79.4,141.1ZM58.9,172.8 61.7,170.6 65.0,167.8 70.0,167.2 71.1,170.6 72.2,175.0 68.3,177.8 65.6,175.6 63.3,176.7 60.6,175.0ZM91.7,133.9 95.6,131.7 96.7,132.8 93.9,136.1ZM102.2,123.3 106.1,118.9 107.2,119.4 104.4,125.0 103.3,127.8 102.6,127.5ZM71.1,139.4 76.7,136.1 76.1,138.9 73.3,141.7 69.4,142.8 67.4,149.4 66.6,149.0 68.4,142.2ZM71.7,144.4 75.0,145.6 75.0,150.0 72.8,148.9ZM69.4,154.4 75.0,153.9 74.0,157.8 70.5,157.0ZM69.4,162.2 73.9,158.9 75.0,162.2 72.2,164.4ZM73.3,163.3 76.1,162.2 76.7,166.7 74.0,167.8Z" fill="#009600" stroke="rgba(255,255,255,0.45)" stroke-width="0.5" stroke-linejoin="round"/>
<path d="M23.0,290.0 28.0,290.0 37.5,292.7 40.0,296.8 35.8,301.0 35.0,307.7 30.8,314.0 26.7,321.0 27.5,327.7 22.5,334.0 23.0,338.5 16.7,336.8 10.8,336.8 13.0,329.0 11.7,322.7 12.5,316.0 16.7,311.0 20.0,302.7 22.5,296.0Z" fill="#3cff3c" stroke="rgba(255,255,255,0.45)" stroke-width="0.5" stroke-linejoin="round"/>
<path d="M23.0,277.7 33.0,274.0 41.7,277.7 55.0,281.8 66.7,284.0 76.7,286.0 81.7,291.0 90.0,295.0 98.0,296.8 105.0,299.0 110.8,299.0 110.0,304.0 101.7,309.0 92.5,313.5 88.0,321.0 82.5,326.0 81.7,331.0 84.0,334.0 78.0,338.5 75.0,344.0 66.7,346.8 61.7,350.0 55.0,349.0 46.7,348.5 40.0,350.0 35.0,352.7 30.8,350.0 29.0,342.7 23.0,338.5 22.5,334.0 27.5,327.7 26.7,321.0 30.8,314.0 35.0,307.7 35.8,301.0 40.0,296.8 37.5,292.7 28.0,290.0 23.0,290.0 22.5,284.0ZM101.7,326.0 108.0,323.5 110.8,326.0 105.8,329.0ZM113.0,324.0 116.7,324.0 116.7,325.5 113.0,325.5ZM92.0,331.0 94.5,331.0 94.5,333.0 92.0,333.0Z" fill="#009600" stroke="rgba(255,255,255,0.45)" stroke-width="0.5" stroke-linejoin="round"/>
<path d="M108.1,216.9 112.5,215.8 116.7,220.0 122.5,223.3 128.0,225.8 130.0,229.5 133.5,228.5 134.0,232.0 136.7,231.7 145.8,237.5 144.0,245.0 143.0,251.7 140.8,253.0 135.8,259.0 133.0,264.0 139.0,264.0 137.5,266.8 136.7,272.7 139.0,277.7 138.0,282.7 141.7,287.7 140.0,289.0 131.0,292.0 124.0,288.5 116.7,290.0 111.7,293.5 110.8,299.0 105.0,299.0 98.0,296.8 90.0,295.0 81.7,291.0 76.7,286.0 80.6,280.0 83.1,272.5 85.0,265.0 83.1,258.0 80.6,251.2 78.8,246.2 73.8,244.4 68.8,241.2 65.0,238.0 65.0,233.5 71.7,232.5 78.0,233.0 85.8,234.5 85.6,225.6 88.8,226.2 91.0,228.5 96.2,229.4 100.0,226.0 102.5,224.4 108.1,221.9ZM155.0,296.0 156.0,302.7 155.8,309.0 153.0,311.8 150.8,307.7 150.0,301.8 153.0,299.0Z" fill="#009600" stroke="rgba(255,255,255,0.45)" stroke-width="0.5" stroke-linejoin="round"/>
<path d="M112.5,215.8 116.7,214.0 121.1,213.3 126.7,212.8 131.1,212.8 132.8,214.4 134.4,215.6 135.0,221.7 135.8,226.7 133.5,226.7 133.5,228.5 130.0,229.5 128.0,225.8 122.5,223.3 116.7,220.0Z" fill="#00dc00" stroke="rgba(255,255,255,0.45)" stroke-width="0.5" stroke-linejoin="round"/>
<path d="M131.1,194.4 134.4,193.3 140.6,193.3 142.2,196.7 140.6,201.1 141.1,204.4 137.8,208.9 135.6,211.1 134.4,215.6 132.8,214.4 131.1,212.8 126.7,212.8 121.1,213.3 120.0,211.1 125.0,206.7 127.2,202.2 128.9,196.7Z" fill="#009600" stroke="rgba(255,255,255,0.45)" stroke-width="0.5" stroke-linejoin="round"/>
<path d="M133.5,226.7 135.8,226.7 136.7,231.7 134.0,232.0 133.5,228.5Z" fill="#009600" stroke="rgba(255,255,255,0.45)" stroke-width="0.5" stroke-linejoin="round"/>
<path d="M150.0,179.4 152.2,178.9 157.8,179.4 160.0,183.3 164.4,187.8 167.8,186.7 170.0,184.4 174.4,183.9 177.8,182.2 180.0,185.6 182.2,187.8 184.4,188.9 183.3,194.4 185.6,202.2 187.8,208.9 188.9,216.7 186.7,217.5 178.0,222.5 174.0,226.7 177.5,235.0 182.5,241.7 177.5,245.8 178.0,250.0 170.0,250.8 163.0,251.7 157.5,252.5 150.8,250.0 143.0,251.7 144.0,245.0 145.8,237.5 136.7,231.7 135.8,226.7 135.0,221.7 134.4,215.6 135.6,211.1 137.8,208.9 141.1,204.4 140.6,201.1 142.2,196.7 140.6,193.3 142.8,192.2 149.4,192.2 154.0,192.4 152.8,188.9 152.2,184.4Z" fill="#3cff3c" stroke="rgba(255,255,255,0.45)" stroke-width="0.5" stroke-linejoin="round"/>
<path d="M161.7,153.3 157.8,156.1 153.3,158.9 150.0,162.2 149.1,167.8 149.4,173.3 152.2,178.9 157.8,179.4 157.2,175.6 158.3,172.2 160.6,170.0 161.7,166.7 163.3,165.0 161.7,162.2 161.1,157.8ZM158.3,174.4 161.7,173.3 163.3,175.6 161.7,178.3 158.9,177.2ZM165.0,172.2 167.8,170.0 171.1,167.8 173.3,170.0 172.8,174.4 170.6,176.7 170.0,180.0 167.2,182.2 164.4,180.6 166.1,177.8 165.0,175.6ZM185.6,175.6 186.6,175.8 187.2,177.2 186.0,177.0Z" fill="#009600" stroke="rgba(255,255,255,0.45)" stroke-width="0.5" stroke-linejoin="round"/>
<path d="M197.2,37.5 195.8,41.7 189.6,43.8 187.5,48.6 183.3,53.5 182.6,59.7 179.9,65.3 177.8,72.2 177.1,81.9 174.4,84.4 176.1,87.8 171.1,90.0 168.9,94.4 168.3,102.2 169.4,112.2 171.7,116.7 169.4,121.1 171.1,126.7 168.9,132.2 167.8,140.6 165.0,140.6 166.7,148.9 168.9,156.7 172.2,163.3 174.4,167.8 175.6,173.3 178.3,175.3 182.2,173.9 183.3,170.0 185.6,167.8 191.1,166.7 192.8,162.2 193.9,154.4 194.4,146.7 194.4,142.2 198.3,138.9 201.7,134.4 203.3,128.9 199.4,124.4 193.9,120.0 193.3,112.2 192.8,104.4 195.6,98.9 195.8,100.0 200.0,94.4 204.9,88.9 207.6,83.3 206.2,80.6 207.6,75.0 211.1,69.4 216.7,68.0 215.3,65.3 213.2,58.3 211.1,52.8 209.7,45.8 204.9,40.3ZM205.6,147.2 206.7,146.7 205.6,152.2 203.3,157.8 202.2,156.7 201.7,152.2 203.9,148.3ZM196.1,154.4 196.9,154.6 194.6,163.9 193.8,163.7Z" fill="#005000" stroke="rgba(255,255,255,0.45)" stroke-width="0.5" stroke-linejoin="round"/>
<path d="M216.0,25.0 220.1,21.5 225.7,24.3 226.4,33.3 231.9,40.3 234.0,47.2 238.9,55.6 241.0,66.7 245.8,73.6 247.2,79.2 250.0,80.6 253.0,85.0 255.6,90.0 253.9,95.6 251.7,102.2 249.4,106.7 246.1,111.1 241.7,115.0 235.0,118.9 229.4,122.2 223.3,125.0 219.4,122.8 215.0,120.6 212.8,114.4 211.1,106.7 209.4,100.0 211.1,94.4 215.3,87.5 218.8,80.6 222.2,73.6 220.8,69.4 216.7,68.0 215.3,65.3 213.2,58.3 211.1,52.8 209.7,45.8 204.9,40.3 197.2,37.5 199.3,33.3 203.5,37.5 208.3,39.6 214.6,36.8 216.7,34.7ZM205.6,123.9 207.8,122.8 208.3,124.4 206.1,125.6Z" fill="#00dc00" stroke="rgba(255,255,255,0.45)" stroke-width="0.5" stroke-linejoin="round"/>
<path d="M247.2,125.0 242.8,125.6 236.1,125.6 231.7,127.8 227.8,130.6 226.1,133.3 227.2,136.7 229.4,138.9 232.8,139.4 232.8,142.8 236.7,141.1 240.6,141.7 245.0,144.4 250.6,143.3 248.9,138.9 246.7,134.4 246.7,128.9ZM220.0,135.0 222.8,133.9 223.9,135.6 221.1,136.7ZM220.0,138.9 223.3,137.2 226.7,137.8 224.4,140.0 221.7,142.2 220.0,141.0Z" fill="#fab0b4" stroke="rgba(255,255,255,0.45)" stroke-width="0.5" stroke-linejoin="round"/>
<path d="M232.8,142.8 236.7,141.1 240.6,141.7 245.0,144.4 250.6,143.3 252.8,147.8 255.0,152.2 255.8,154.0 253.0,159.0 250.0,160.8 247.2,160.6 242.8,158.9 238.3,157.8 235.0,158.3 229.4,159.4 222.8,160.0 218.9,162.2 218.3,157.8 218.9,152.2 220.6,148.9 222.8,146.7 225.0,147.2 227.8,150.0 230.6,152.2 232.8,150.6 233.9,146.7Z" fill="#8cff8c" stroke="rgba(255,255,255,0.45)" stroke-width="0.5" stroke-linejoin="round"/>
<path d="M218.9,162.2 222.8,160.0 229.4,159.4 235.0,158.3 238.3,157.8 242.8,158.9 247.2,160.6 250.0,160.8 250.8,165.8 247.5,170.0 248.0,176.7 243.0,179.0 239.0,181.7 235.8,180.0 231.7,177.5 230.8,173.0 225.0,171.7 220.8,170.8 219.0,165.8Z" fill="#f0606a" stroke="rgba(255,255,255,0.45)" stroke-width="0.5" stroke-linejoin="round"/>
<path d="M184.4,188.9 188.9,186.7 195.6,182.8 200.0,180.6 203.0,178.0 207.5,177.5 213.0,180.8 215.0,180.0 230.0,179.0 235.0,180.0 239.0,182.5 240.8,193.0 238.0,196.7 240.8,203.0 245.0,212.5 240.8,220.0 240.8,223.0 238.0,230.0 233.0,227.5 226.7,228.0 220.0,230.8 215.0,230.0 212.5,226.7 205.0,224.0 201.7,222.5 193.0,219.0 188.9,216.7 187.8,208.9 185.6,202.2 183.3,194.4Z" fill="#8cff8c" stroke="rgba(255,255,255,0.45)" stroke-width="0.5" stroke-linejoin="round"/>
<path d="M174.0,226.7 178.3,222.5 186.7,217.5 188.9,216.7 193.0,219.0 201.7,222.5 205.0,224.0 212.5,226.7 213.0,229.0 210.8,233.0 205.0,237.5 198.0,236.7 191.7,235.8 187.5,240.8 184.0,240.0 182.5,241.7 177.5,235.0Z" fill="#ec1020" stroke="rgba(255,255,255,0.45)" stroke-width="0.5" stroke-linejoin="round"/>
<path d="M213.0,229.0 212.5,226.7 215.0,230.0 220.0,230.8 226.7,228.0 233.0,227.5 238.0,230.0 237.5,235.0 233.0,235.8 228.0,236.7 223.0,240.8 217.5,242.5 214.0,245.8 206.7,244.0 204.0,241.7 205.0,237.5 210.8,233.0Z" fill="#ec1020" stroke="rgba(255,255,255,0.45)" stroke-width="0.5" stroke-linejoin="round"/>
<path d="M157.5,252.5 163.0,251.7 170.0,250.8 178.0,250.0 177.5,245.8 182.5,241.7 184.0,240.0 187.5,240.8 191.7,235.8 198.0,236.7 205.0,237.5 204.0,241.7 206.7,244.0 202.5,248.0 201.7,255.0 200.0,258.0 193.0,260.0 187.5,260.8 183.0,260.0 182.5,256.7 175.0,255.8 168.0,257.5 162.5,255.8 158.0,256.7Z" fill="#3cff3c" stroke="rgba(255,255,255,0.45)" stroke-width="0.5" stroke-linejoin="round"/>
<path d="M206.7,244.0 214.0,245.8 217.5,242.5 223.0,240.8 228.0,236.7 233.0,235.8 237.5,235.0 240.0,237.5 243.0,240.0 240.0,241.7 237.5,249.0 235.8,256.0 231.7,258.5 226.7,260.6 220.6,263.9 214.4,265.0 206.7,261.1 200.6,257.8 201.7,255.0 202.5,248.0Z" fill="#8cff8c" stroke="rgba(255,255,255,0.45)" stroke-width="0.5" stroke-linejoin="round"/>
<path d="M183.0,260.0 187.5,260.8 193.0,260.0 200.0,258.0 200.6,257.8 198.3,261.1 197.2,265.6 196.1,269.4 191.1,270.0 186.7,271.1 184.4,271.7 183.9,270.0 184.0,265.8Z" fill="#8cff8c" stroke="rgba(255,255,255,0.45)" stroke-width="0.5" stroke-linejoin="round"/>
<path d="M200.6,257.8 206.7,261.1 214.4,265.0 220.6,263.9 221.7,266.7 222.8,271.7 220.0,270.6 214.4,272.2 207.8,271.7 203.3,271.7 199.4,273.3 201.0,277.2 205.6,282.2 211.1,287.2 216.7,291.7 220.6,294.4 221.1,297.2 217.8,295.6 212.2,292.8 206.7,289.4 202.2,286.7 197.8,283.3 195.0,279.4 192.2,275.6 190.0,272.2 188.3,273.9 186.7,276.7 185.0,273.9 184.4,271.7 186.7,271.1 191.1,270.0 196.1,269.4 197.2,265.6 198.3,261.1ZM189.4,273.3 191.2,273.0 192.2,278.0 190.6,278.2ZM193.8,279.0 195.4,278.8 197.2,282.6 195.8,283.0ZM198.9,285.3 201.5,286.6 202.0,287.6 199.2,286.6ZM203.3,291.0 209.5,292.5 210.0,293.5 203.6,292.2ZM206.7,293.4 214.0,294.6 214.4,295.4 207.0,294.4Z" fill="#00dc00" stroke="rgba(255,255,255,0.45)" stroke-width="0.5" stroke-linejoin="round"/>
<path d="M137.5,266.8 139.0,264.0 143.0,266.7 147.5,263.0 152.5,265.0 155.8,260.8 160.0,261.7 162.5,259.0 158.0,256.7 162.5,255.8 168.0,257.5 175.0,255.8 182.5,256.7 183.0,260.0 184.0,265.8 185.0,270.0 184.0,270.8 180.8,269.0 176.7,273.0 176.7,275.0 175.8,281.0 179.0,286.0 184.0,290.0 187.5,295.0 191.7,301.0 198.0,305.0 205.0,305.0 204.0,309.0 208.0,310.0 216.7,313.5 224.0,319.0 223.0,322.7 218.0,319.0 213.0,317.7 210.0,322.7 210.0,327.7 214.0,328.5 214.0,332.7 211.7,336.0 208.0,342.7 205.8,341.0 206.7,334.0 205.0,327.7 200.0,323.5 195.0,319.0 190.0,316.0 183.0,312.7 176.7,308.5 172.5,303.5 166.7,297.7 162.5,292.7 160.0,286.8 155.0,283.5 148.0,283.5 141.7,287.7 138.0,282.7 139.0,277.7 136.7,272.7ZM148.0,315.0 155.0,313.5 157.5,317.7 157.5,326.0 156.7,332.7 152.5,335.0 148.0,333.5 149.0,326.0 146.7,319.0ZM180.0,345.0 186.7,343.5 195.0,344.0 202.5,341.0 204.0,343.5 201.7,348.5 202.5,355.0 198.0,356.8 191.7,352.7 185.0,350.0 180.8,347.7Z" fill="#3cff3c" stroke="rgba(255,255,255,0.45)" stroke-width="0.5" stroke-linejoin="round"/>
<path d="M240.0,241.7 243.0,240.0 246.7,238.0 256.7,237.5 263.0,234.0 267.5,231.7 273.0,236.7 279.0,244.0 280.0,244.4 282.8,249.4 285.0,256.1 288.9,255.0 293.9,253.9 293.3,259.4 290.0,262.8 289.4,267.2 290.6,271.7 283.0,270.8 280.0,271.0 275.0,272.7 270.0,276.0 261.7,277.7 253.0,277.7 247.8,276.7 245.6,273.3 237.8,270.6 233.9,266.7 230.6,262.2 226.7,260.6 231.7,258.5 235.8,256.0 237.5,249.0Z" fill="#8cff8c" stroke="rgba(255,255,255,0.45)" stroke-width="0.5" stroke-linejoin="round"/>
<path d="M247.8,276.7 253.0,277.7 261.7,277.7 270.0,276.0 275.0,272.7 280.0,271.0 290.6,271.7 287.8,276.1 287.2,281.7 288.3,287.0 288.8,289.4 283.0,290.0 280.0,292.7 281.4,295.9 278.7,295.3 277.6,298.7 272.0,299.8 264.2,299.2 257.0,302.0 254.2,304.2 254.0,299.0 250.8,295.0 249.0,289.0 250.0,284.0 246.7,279.0Z" fill="#f0606a" stroke="rgba(255,255,255,0.45)" stroke-width="0.5" stroke-linejoin="round"/>
<path d="M241.4,312.0 247.6,308.7 254.2,304.2 257.0,302.0 264.2,299.2 272.0,299.8 277.6,298.7 278.7,295.3 281.4,295.9 280.9,302.0 277.6,303.1 270.9,303.7 267.6,305.3 264.2,307.0 265.3,309.8 267.5,312.5 266.5,313.3 264.5,311.0 264.5,314.0 263.0,314.0 262.0,310.5 259.5,309.3 255.9,311.4 254.8,314.2 257.0,318.1 259.2,322.6 258.1,325.3 262.0,324.2 265.3,326.4 269.8,329.8 272.0,332.6 270.9,333.7 270.3,335.9 266.4,334.8 264.2,337.6 265.3,339.8 262.6,342.0 264.2,346.4 262.6,349.2 260.3,347.6 258.7,350.9 255.9,347.6 254.2,349.2 252.6,346.4 250.3,342.6 247.6,338.7 248.5,335.5 246.4,332.6 243.1,328.7 239.8,324.8 238.1,321.4 240.3,317.6ZM270.9,359.2 276.4,358.1 283.1,358.7 288.7,357.6 293.1,357.6 293.7,358.7 289.8,360.3 284.2,362.0 278.7,362.6 273.1,362.0 270.9,361.0ZM281.4,318.3 286.4,318.5 286.6,320.2 283.5,320.6 281.4,319.8ZM284.8,324.5 286.2,324.5 286.3,327.0 284.8,327.0ZM290.3,331.3 292.6,331.3 292.6,332.8 290.3,332.8ZM304.2,342.0 305.9,343.5 304.6,347.6 303.2,347.6 303.4,344.2ZM233.2,319.5 234.6,320.3 235.5,323.0 234.2,322.8ZM241.6,335.0 243.8,335.0 244.0,337.8 241.8,337.5ZM244.2,339.0 245.8,339.2 245.6,341.0 244.2,340.6ZM240.8,331.5 242.0,331.5 242.0,334.0 240.8,334.0ZM268.0,302.6 270.0,302.6 270.0,304.4 268.0,304.4ZM274.0,312.0 276.6,312.0 276.6,314.0 274.0,314.0ZM274.5,336.0 276.0,336.0 276.5,338.0 275.0,338.3ZM277.5,339.0 279.0,338.8 279.6,340.6 278.0,341.0ZM279.5,343.5 282.2,343.2 282.4,345.2 280.0,345.5ZM283.2,340.2 285.0,340.0 285.0,342.0 283.4,342.0ZM275.5,344.8 277.2,344.6 277.4,346.4 275.7,346.6ZM288.0,336.6 289.8,336.6 289.8,338.4 288.0,338.4ZM294.5,339.0 296.8,339.5 296.4,341.0 294.5,340.6ZM262.8,320.5 265.0,320.7 264.8,322.0 262.8,321.8Z" fill="#fab0b4" stroke="rgba(255,255,255,0.45)" stroke-width="0.5" stroke-linejoin="round"/>
<path d="M338.7,344.5 342.8,340.8 347.0,339.1 351.2,335.8 354.1,333.7 352.8,337.5 352.0,341.6 348.7,344.1 346.2,346.2 342.8,347.9 340.3,347.0Z" fill="#f0606a" stroke="rgba(255,255,255,0.45)" stroke-width="0.5" stroke-linejoin="round"/>
<path d="M192.0,364.0 194.0,365.0 196.0,367.0 194.5,367.0 192.0,365.5Z" fill="#fab0b4" stroke="rgba(255,255,255,0.45)" stroke-width="0.5" stroke-linejoin="round"/>
<path d="M130.6,196.7 132.2,195.6 133.3,198.9 131.7,203.3 130.6,203.9 131.1,200.0Z" fill="#fff"/>
<circle cx="99.7" cy="297.2" r="1.2" fill="#808080"/>
<circle cx="139.7" cy="289" r="1.0" fill="#808080"/>
<circle cx="177.3" cy="286.8" r="1.2" fill="#808080"/>
<circle cx="80" cy="226" r="1.5" fill="#808080"/>
<circle cx="82.9" cy="230" r="1.5" fill="#808080"/>
<circle cx="76.7" cy="178.9" r="1.0" fill="#808080"/>
<path d="M280.9,302.0 277.6,303.9 277.6,315.0 275.3,316.1" fill="none" stroke="#fab0b4" stroke-opacity="0.55" stroke-width="0.6"/>
<path d="M281.4,326.1 285.3,326.1 285.3,329.5 287.6,330.6 287.6,336.1 292.6,332.8 294.2,331.7 296.4,340.6 298.7,341.7 304.2,345.0 305.3,348.4 304.2,350.6 300.3,352.8 299.8,358.4 294.2,359.5" fill="none" stroke="#fab0b4" stroke-opacity="0.55" stroke-width="0.6"/>
<path d="M265.9,352.8 265.9,360.0 272.0,360.0" fill="none" stroke="#fab0b4" stroke-opacity="0.55" stroke-width="0.6"/>
<path d="M276.4,335.0 280.9,338.4 279.8,342.8 284.2,341.7 285.3,345.0 286.4,348.4" fill="none" stroke="#fab0b4" stroke-opacity="0.55" stroke-width="0.6"/>
<path d="M275.9,339.5 277.6,345.0 276.4,347.2" fill="none" stroke="#fab0b4" stroke-opacity="0.55" stroke-width="0.6"/>
<path d="M268.0,314.0 272.0,316.0 274.8,315.6" fill="none" stroke="#fab0b4" stroke-opacity="0.55" stroke-width="0.6"/>
<path d="M264.0,322.0 268.0,321.0 271.0,324.0 275.0,327.0 281.4,326.1" fill="none" stroke="#fab0b4" stroke-opacity="0.55" stroke-width="0.6"/>
<path d="M249.0,335.6 255.0,334.2 261.5,333.6" fill="none" stroke="#fff" stroke-width="0.7"/>
<path d="M135.8,294.3 135.8,301.8 150.0,301.8" fill="none" stroke="#3cff3c" stroke-opacity="0.6" stroke-width="0.6"/>
<path d="M158.3,316.8 181.7,316.8 181.7,311.8" fill="none" stroke="#3cff3c" stroke-opacity="0.6" stroke-width="0.6"/>
<path d="M167.5,356.8 176.7,356.8" fill="none" stroke="#3cff3c" stroke-opacity="0.6" stroke-width="0.6"/>
<path d="M56.7,350.0 56.7,365.0" fill="none" stroke="#009600" stroke-opacity="0.6" stroke-width="0.6"/>
<path d="M93.0,332.7 106.7,331.0 116.7,326.0" fill="none" stroke="#009600" stroke-opacity="0.6" stroke-width="0.6"/>
<path d="M96.7,131.7 102.8,131.7 103.3,127.8" fill="none" stroke="#009600" stroke-opacity="0.6" stroke-width="0.6"/>
<path d="M208.3,124.4 214.4,124.4" fill="none" stroke="#00dc00" stroke-opacity="0.6" stroke-width="0.6"/>
<path d="M193.9,163.9 196.7,154.4 201.7,154.4" fill="none" stroke="#005000" stroke-opacity="0.6" stroke-width="0.6"/>
<path d="M171.7,179.1 186.7,179.1 186.7,177.8" fill="none" stroke="#009600" stroke-opacity="0.6" stroke-width="0.6"/>
<path d="M215.6,173.0 215.6,127.2 226.7,127.2 232.2,122.8 247.2,122.5" fill="none" stroke="#b8b8b8" stroke-width="0.5"/>
</g></g>
<clipPath id="c2"><rect x="0" y="368.2" width="360" height="369"/></clipPath>
<g clip-path="url(#c2)"><g transform="translate(0.8,367.2)">
<path d="M252.0,21.0 250.0,20.8 244.4,22.2 238.9,19.4 233.3,20.8 229.9,16.7 230.6,13.9 225.7,13.2 222.2,15.3 219.4,11.1 216.7,13.2 213.9,11.8 211.1,12.5 209.7,15.3 205.6,15.3 204.9,18.8 201.4,19.4 198.6,22.9 195.8,22.9 194.4,26.4 190.3,25.7 188.9,29.2 186.8,33.3 184.0,34.7 183.3,38.9 179.9,37.5 177.1,41.7 174.3,45.8 169.4,50.7 176.4,47.2 179.9,47.2 177.8,52.8 175.0,56.9 172.9,61.1 170.8,66.7 168.1,72.2 166.7,77.8 163.3,81.1 160.6,86.7 157.8,92.2 156.7,94.4 153.3,93.9 149.4,97.2 146.7,100.0 143.9,101.7 140.0,106.1 136.1,108.9 135.0,115.6 134.2,124.4 135.3,135.6 136.7,142.2 141.1,147.8 146.7,149.4 152.2,145.6 156.7,140.6 161.1,135.6 163.9,138.3 166.7,140.6 172.0,138.0 178.0,118.0 178.0,98.0 184.0,80.0 188.0,62.0 195.0,48.0 204.0,44.0 214.0,44.0 222.0,38.0 230.0,34.0 240.0,32.0 252.0,32.0Z" fill="#808080"/>
<path d="M238.0,20.0 240.0,21.7 250.0,20.8 261.7,23.3 271.7,26.7 277.5,31.7 279.0,38.3 275.8,45.0 271.7,48.3 260.0,49.0 253.0,48.0 245.0,45.0 250.0,49.0 258.0,53.0 260.0,58.0 265.0,65.0 273.0,68.0 277.5,66.7 275.8,64.0 271.0,62.5 269.0,58.3 273.0,56.7 283.0,57.5 285.0,55.8 279.0,50.0 280.0,43.0 282.5,37.5 288.0,35.8 290.8,34.0 289.0,29.0 285.0,25.0 284.0,18.0 279.0,15.8 284.0,12.5 290.0,13.0 292.5,16.7 289.0,21.7 290.0,25.0 295.8,26.7 299.0,23.0 300.0,18.0 297.5,15.0 301.7,10.0 304.0,5.0 306.7,0.0 362.0,0.0 362.0,245.6 355.6,245.0 348.9,244.4 342.2,242.8 338.3,242.2 340.0,239.4 343.3,237.2 342.2,231.1 345.6,228.9 340.6,225.0 346.7,218.9 345.6,217.2 338.9,221.7 334.4,225.6 328.9,230.6 325.0,235.0 322.8,238.3 318.9,238.9 314.4,240.6 310.0,242.2 307.2,240.6 306.7,238.3 302.2,239.4 298.3,241.1 296.7,245.0 295.6,249.4 293.9,253.9 285.0,262.0 270.0,255.0 250.0,250.0 234.0,245.0 232.0,232.0 234.0,215.0 234.0,185.0 243.0,175.0 243.0,165.0 247.0,150.0 245.0,140.0 243.0,128.0 247.2,122.2 248.3,120.6 251.7,118.3 255.0,117.8 256.1,116.1 251.7,116.1 247.2,113.9 245.6,112.2 242.0,108.0 246.0,95.0 242.0,80.0 236.0,62.0 228.0,45.0 224.0,30.0ZM291.8,-1.0 293.2,3.5 296.0,4.9 298.0,1.4 298.0,-1.0ZM362.0,277.2 354.4,277.8 350.0,278.3 345.6,276.1 340.0,277.2 337.8,275.6 332.2,277.2 326.7,280.0 322.2,283.3 318.9,287.0 315.6,290.6 310.0,292.5 300.0,294.4 300.0,295.0 305.0,298.0 301.0,300.6 295.0,303.0 291.0,302.5 288.8,305.6 283.8,307.5 282.5,312.5 283.8,315.6 287.5,316.9 288.8,320.0 287.5,323.8 291.0,325.6 293.8,330.0 296.0,335.0 300.0,338.0 305.0,337.5 311.0,339.4 316.0,340.6 321.0,338.0 322.0,332.5 326.0,331.0 332.5,332.0 337.5,334.4 343.8,332.5 348.8,327.5 352.5,323.8 357.5,324.4 362.0,322.5ZM288.8,289.4 290.6,291.3 295.0,293.8 299.4,294.4 299.4,296.9 293.8,298.0 289.4,300.0 285.0,303.8 281.0,305.6 279.4,304.4 280.6,299.4 279.0,296.0 279.0,292.7 283.0,289.0 287.0,287.0Z" fill="#808080"/>
<path d="M322.2,237.5 316.7,241.7 312.2,245.6 309.4,248.3 313.3,248.9 317.8,250.6 318.3,254.4 322.2,254.4 324.4,250.6 327.8,247.8 330.6,245.6 334.4,243.9 337.8,242.8 337.2,240.6 333.3,241.1 330.0,243.3 327.8,244.4 325.6,241.7 323.2,238.3Z" fill="#808080"/>
<path d="M226.7,260.6 230.6,262.2 233.9,266.7 237.8,270.6 245.6,273.3 247.8,276.7 246.7,279.0 250.0,284.0 249.0,289.0 250.8,295.0 254.0,299.0 254.2,304.2 247.6,308.7 241.4,312.0 240.3,317.6 238.1,321.4 237.2,323.3 235.6,322.2 232.2,317.8 230.0,313.3 230.6,307.8 229.4,302.2 225.6,300.0 221.1,297.2 220.6,294.4 216.7,291.7 211.1,287.2 205.6,282.2 201.0,277.2 199.4,273.3 203.3,271.7 207.8,271.7 214.4,272.2 220.0,270.6 222.8,271.7 221.7,266.7 220.6,263.9Z" fill="#808080"/>
<path d="M133.0,264.0 135.8,259.0 140.8,253.0 143.0,251.7 150.8,250.0 157.5,252.5 158.0,256.7 162.5,259.0 160.0,261.7 155.8,260.8 152.5,265.0 147.5,263.0 143.0,266.7 139.0,264.0Z" fill="#808080"/>
<path d="M220.8,170.8 225.0,171.7 230.8,173.0 231.7,177.5 235.8,180.0 230.0,179.0 215.0,180.0 215.0,175.8 219.0,175.0Z" fill="#808080"/>
<path d="M22.5,368.0 30.8,354.0 35.8,354.0 38.0,359.0 41.7,362.7 50.0,363.5 56.7,365.0 63.0,366.8 70.0,362.7 78.0,361.0 83.0,357.7 93.0,356.0 106.7,355.0 118.0,356.0 125.0,356.8 131.7,354.0 138.0,355.0 145.8,356.0 151.7,353.5 158.0,351.8 160.8,354.0 163.0,357.7 168.0,355.0 167.5,358.5 164.0,362.7 165.8,368.0Z" fill="#808080"/>
<path d="M295.0,209.6 300.0,210.6 304.4,212.4 304.4,213.2 299.0,211.8 295.0,210.4Z" fill="#fff"/>
<path d="M318.0,219.2 321.0,222.8 316.0,225.9 313.2,229.0 312.6,231.7 311.8,231.7 312.4,228.7 315.3,225.3 320.0,222.6 317.6,219.6Z" fill="#fff"/>
<path d="M267.5,82.5 272.5,83.3 275.8,88.3 280.0,94.0 280.8,98.3 278.3,99.0 275.0,95.0 270.8,92.5 268.3,86.7Z" fill="#fff"/>
<path d="M255.0,99.0 261.7,100.8 266.7,105.8 266.7,110.8 262.5,115.0 258.3,111.7 253.3,106.7 251.7,103.3Z" fill="#fff"/>
<path d="M288.3,101.7 291.7,100.0 293.3,102.5 290.0,104.0Z" fill="#fff"/>
<path d="M294.0,112.5 298.3,111.7 303.3,115.8 301.7,120.0 296.7,118.3 294.0,115.0Z" fill="#fff"/>
<path d="M255.8,155.8 261.7,155.0 266.7,156.7 270.0,155.0 273.0,158.0 274.0,163.0 280.0,168.0 286.7,171.7 287.5,175.8 282.5,178.0 282.5,182.5 285.8,186.7" fill="none" stroke="#dadada" stroke-width="0.65"/>
<path d="M285.8,186.7 281.7,190.0 281.7,195.8 271.7,196.7 263.0,198.0 253.0,198.0 245.0,200.0 240.8,203.0" fill="none" stroke="#dadada" stroke-width="0.65"/>
<path d="M285.8,186.7 290.0,185.8 293.0,181.7 298.0,180.8 303.0,186.7 306.7,190.0 313.0,196.7 320.0,195.0 330.0,194.0 341.7,195.0 344.0,201.7 345.6,205.0 346.7,209.4 341.7,212.2 338.9,216.1 339.4,220.6" fill="none" stroke="#dadada" stroke-width="0.65"/>
<path d="M267.5,231.7 270.0,229.0 276.7,228.0 280.0,228.9 284.4,231.7 288.3,237.2 292.2,241.7 295.6,244.4" fill="none" stroke="#dadada" stroke-width="0.65"/>
<path d="M295.6,244.4 291.1,243.9 286.1,244.4 285.5,250.0 285.0,254.0" fill="none" stroke="#dadada" stroke-width="0.65"/>
<path d="M222.8,271.7 224.4,277.0 223.9,281.0 225.6,285.3 221.5,288.5 220.6,294.4" fill="none" stroke="#dadada" stroke-width="0.65"/>
<path d="M225.6,285.3 229.5,288.0 233.0,291.5 231.3,295.0 229.3,295.6 229.4,302.2" fill="none" stroke="#dadada" stroke-width="0.65"/>
<path d="M231.3,295.0 234.0,296.0 237.0,299.5 236.8,304.0 238.5,308.5 241.4,312.0" fill="none" stroke="#dadada" stroke-width="0.65"/>
<path d="M237.0,299.5 240.0,297.2 244.0,295.5 250.0,294.5" fill="none" stroke="#dadada" stroke-width="0.65"/>
<path d="M233.0,291.5 235.8,289.7 239.2,290.7 240.8,293.5 244.0,295.5" fill="none" stroke="#dadada" stroke-width="0.65"/>
<path d="M145.8,356.0 146.7,368.0" fill="none" stroke="#dadada" stroke-width="0.65"/>
<path d="M55.0,168.3 58.9,165.6 64.4,165.0 65.6,167.2 61.7,170.6 58.9,172.8 60.6,175.0 63.3,176.7 65.6,175.6 66.7,178.9 67.5,182.5 65.8,190.0 63.0,194.0 57.5,196.7 51.7,195.8 45.0,198.0 40.0,195.8 39.0,190.8 41.7,189.4 45.0,186.7 46.7,182.2 43.9,180.0 45.6,176.7 46.1,172.2 49.4,171.7 56.1,170.6Z" fill="#3cff3c" stroke="rgba(255,255,255,0.45)" stroke-width="0.5" stroke-linejoin="round"/>
<path d="M82.8,136.7 92.8,137.8 93.3,140.0 87.8,143.3 86.1,147.2 96.7,148.3 97.2,150.6 93.9,156.7 91.1,160.0 88.3,163.3 92.8,164.4 95.6,168.9 96.1,175.6 100.6,182.2 102.8,190.0 103.0,195.0 108.0,196.7 110.8,200.8 109.0,206.7 105.0,209.0 108.0,211.7 104.0,215.0 95.8,215.8 90.0,215.0 81.7,214.0 76.7,215.0 68.0,215.8 63.0,217.5 70.0,211.7 75.0,209.0 81.7,208.0 76.7,206.7 72.5,204.0 69.0,201.7 75.0,199.0 76.7,193.0 74.4,190.0 76.1,186.7 82.8,187.8 84.4,183.3 83.9,178.9 82.8,174.4 76.7,173.9 76.1,170.6 77.8,165.6 76.7,161.1 77.8,156.7 76.7,151.1 77.2,145.6 79.4,141.1ZM58.9,172.8 61.7,170.6 65.0,167.8 70.0,167.2 71.1,170.6 72.2,175.0 68.3,177.8 65.6,175.6 63.3,176.7 60.6,175.0ZM91.7,133.9 95.6,131.7 96.7,132.8 93.9,136.1ZM102.2,123.3 106.1,118.9 107.2,119.4 104.4,125.0 103.3,127.8 102.6,127.5ZM71.1,139.4 76.7,136.1 76.1,138.9 73.3,141.7 69.4,142.8 67.4,149.4 66.6,149.0 68.4,142.2ZM71.7,144.4 75.0,145.6 75.0,150.0 72.8,148.9ZM69.4,154.4 75.0,153.9 74.0,157.8 70.5,157.0ZM69.4,162.2 73.9,158.9 75.0,162.2 72.2,164.4ZM73.3,163.3 76.1,162.2 76.7,166.7 74.0,167.8Z" fill="#3cff3c" stroke="rgba(255,255,255,0.45)" stroke-width="0.5" stroke-linejoin="round"/>
<path d="M23.0,290.0 28.0,290.0 37.5,292.7 40.0,296.8 35.8,301.0 35.0,307.7 30.8,314.0 26.7,321.0 27.5,327.7 22.5,334.0 23.0,338.5 16.7,336.8 10.8,336.8 13.0,329.0 11.7,322.7 12.5,316.0 16.7,311.0 20.0,302.7 22.5,296.0Z" fill="#8cff8c" stroke="rgba(255,255,255,0.45)" stroke-width="0.5" stroke-linejoin="round"/>
<path d="M23.0,277.7 33.0,274.0 41.7,277.7 55.0,281.8 66.7,284.0 76.7,286.0 81.7,291.0 90.0,295.0 98.0,296.8 105.0,299.0 110.8,299.0 110.0,304.0 101.7,309.0 92.5,313.5 88.0,321.0 82.5,326.0 81.7,331.0 84.0,334.0 78.0,338.5 75.0,344.0 66.7,346.8 61.7,350.0 55.0,349.0 46.7,348.5 40.0,350.0 35.0,352.7 30.8,350.0 29.0,342.7 23.0,338.5 22.5,334.0 27.5,327.7 26.7,321.0 30.8,314.0 35.0,307.7 35.8,301.0 40.0,296.8 37.5,292.7 28.0,290.0 23.0,290.0 22.5,284.0ZM101.7,326.0 108.0,323.5 110.8,326.0 105.8,329.0ZM113.0,324.0 116.7,324.0 116.7,325.5 113.0,325.5ZM92.0,331.0 94.5,331.0 94.5,333.0 92.0,333.0Z" fill="#8cff8c" stroke="rgba(255,255,255,0.45)" stroke-width="0.5" stroke-linejoin="round"/>
<path d="M108.1,216.9 112.5,215.8 116.7,220.0 122.5,223.3 128.0,225.8 130.0,229.5 133.5,228.5 134.0,232.0 136.7,231.7 145.8,237.5 144.0,245.0 143.0,251.7 140.8,253.0 135.8,259.0 133.0,264.0 139.0,264.0 137.5,266.8 136.7,272.7 139.0,277.7 138.0,282.7 141.7,287.7 140.0,289.0 131.0,292.0 124.0,288.5 116.7,290.0 111.7,293.5 110.8,299.0 105.0,299.0 98.0,296.8 90.0,295.0 81.7,291.0 76.7,286.0 80.6,280.0 83.1,272.5 85.0,265.0 83.1,258.0 80.6,251.2 78.8,246.2 73.8,244.4 68.8,241.2 65.0,238.0 65.0,233.5 71.7,232.5 78.0,233.0 85.8,234.5 85.6,225.6 88.8,226.2 91.0,228.5 96.2,229.4 100.0,226.0 102.5,224.4 108.1,221.9ZM155.0,296.0 156.0,302.7 155.8,309.0 153.0,311.8 150.8,307.7 150.0,301.8 153.0,299.0Z" fill="#3cff3c" stroke="rgba(255,255,255,0.45)" stroke-width="0.5" stroke-linejoin="round"/>
<path d="M112.5,215.8 116.7,214.0 121.1,213.3 126.7,212.8 131.1,212.8 132.8,214.4 134.4,215.6 135.0,221.7 135.8,226.7 133.5,226.7 133.5,228.5 130.0,229.5 128.0,225.8 122.5,223.3 116.7,220.0Z" fill="#fab0b4" stroke="rgba(255,255,255,0.45)" stroke-width="0.5" stroke-linejoin="round"/>
<path d="M131.1,194.4 134.4,193.3 140.6,193.3 142.2,196.7 140.6,201.1 141.1,204.4 137.8,208.9 135.6,211.1 134.4,215.6 132.8,214.4 131.1,212.8 126.7,212.8 121.1,213.3 120.0,211.1 125.0,206.7 127.2,202.2 128.9,196.7Z" fill="#8cff8c" stroke="rgba(255,255,255,0.45)" stroke-width="0.5" stroke-linejoin="round"/>
<path d="M133.5,226.7 135.8,226.7 136.7,231.7 134.0,232.0 133.5,228.5Z" fill="#8cff8c" stroke="rgba(255,255,255,0.45)" stroke-width="0.5" stroke-linejoin="round"/>
<path d="M150.0,179.4 152.2,178.9 157.8,179.4 160.0,183.3 164.4,187.8 167.8,186.7 170.0,184.4 174.4,183.9 177.8,182.2 180.0,185.6 182.2,187.8 184.4,188.9 183.3,194.4 185.6,202.2 187.8,208.9 188.9,216.7 186.7,217.5 178.0,222.5 174.0,226.7 177.5,235.0 182.5,241.7 177.5,245.8 178.0,250.0 170.0,250.8 163.0,251.7 157.5,252.5 150.8,250.0 143.0,251.7 144.0,245.0 145.8,237.5 136.7,231.7 135.8,226.7 135.0,221.7 134.4,215.6 135.6,211.1 137.8,208.9 141.1,204.4 140.6,201.1 142.2,196.7 140.6,193.3 142.8,192.2 149.4,192.2 154.0,192.4 152.8,188.9 152.2,184.4Z" fill="#fab0b4" stroke="rgba(255,255,255,0.45)" stroke-width="0.5" stroke-linejoin="round"/>
<path d="M161.7,153.3 157.8,156.1 153.3,158.9 150.0,162.2 149.1,167.8 149.4,173.3 152.2,178.9 157.8,179.4 157.2,175.6 158.3,172.2 160.6,170.0 161.7,166.7 163.3,165.0 161.7,162.2 161.1,157.8ZM158.3,174.4 161.7,173.3 163.3,175.6 161.7,178.3 158.9,177.2ZM165.0,172.2 167.8,170.0 171.1,167.8 173.3,170.0 172.8,174.4 170.6,176.7 170.0,180.0 167.2,182.2 164.4,180.6 166.1,177.8 165.0,175.6ZM185.6,175.6 186.6,175.8 187.2,177.2 186.0,177.0Z" fill="#8cff8c" stroke="rgba(255,255,255,0.45)" stroke-width="0.5" stroke-linejoin="round"/>
<path d="M197.2,37.5 195.8,41.7 189.6,43.8 187.5,48.6 183.3,53.5 182.6,59.7 179.9,65.3 177.8,72.2 177.1,81.9 174.4,84.4 176.1,87.8 171.1,90.0 168.9,94.4 168.3,102.2 169.4,112.2 171.7,116.7 169.4,121.1 171.1,126.7 168.9,132.2 167.8,140.6 165.0,140.6 166.7,148.9 168.9,156.7 172.2,163.3 174.4,167.8 175.6,173.3 178.3,175.3 182.2,173.9 183.3,170.0 185.6,167.8 191.1,166.7 192.8,162.2 193.9,154.4 194.4,146.7 194.4,142.2 198.3,138.9 201.7,134.4 203.3,128.9 199.4,124.4 193.9,120.0 193.3,112.2 192.8,104.4 195.6,98.9 195.8,100.0 200.0,94.4 204.9,88.9 207.6,83.3 206.2,80.6 207.6,75.0 211.1,69.4 216.7,68.0 215.3,65.3 213.2,58.3 211.1,52.8 209.7,45.8 204.9,40.3ZM205.6,147.2 206.7,146.7 205.6,152.2 203.3,157.8 202.2,156.7 201.7,152.2 203.9,148.3ZM196.1,154.4 196.9,154.6 194.6,163.9 193.8,163.7Z" fill="#3cff3c" stroke="rgba(255,255,255,0.45)" stroke-width="0.5" stroke-linejoin="round"/>
<path d="M216.0,25.0 220.1,21.5 225.7,24.3 226.4,33.3 231.9,40.3 234.0,47.2 238.9,55.6 241.0,66.7 245.8,73.6 247.2,79.2 250.0,80.6 253.0,85.0 255.6,90.0 253.9,95.6 251.7,102.2 249.4,106.7 246.1,111.1 241.7,115.0 235.0,118.9 229.4,122.2 223.3,125.0 219.4,122.8 215.0,120.6 212.8,114.4 211.1,106.7 209.4,100.0 211.1,94.4 215.3,87.5 218.8,80.6 222.2,73.6 220.8,69.4 216.7,68.0 215.3,65.3 213.2,58.3 211.1,52.8 209.7,45.8 204.9,40.3 197.2,37.5 199.3,33.3 203.5,37.5 208.3,39.6 214.6,36.8 216.7,34.7ZM205.6,123.9 207.8,122.8 208.3,124.4 206.1,125.6Z" fill="#f0606a" stroke="rgba(255,255,255,0.45)" stroke-width="0.5" stroke-linejoin="round"/>
<path d="M247.2,125.0 242.8,125.6 236.1,125.6 231.7,127.8 227.8,130.6 226.1,133.3 227.2,136.7 229.4,138.9 232.8,139.4 232.8,142.8 236.7,141.1 240.6,141.7 245.0,144.4 250.6,143.3 248.9,138.9 246.7,134.4 246.7,128.9ZM220.0,135.0 222.8,133.9 223.9,135.6 221.1,136.7ZM220.0,138.9 223.3,137.2 226.7,137.8 224.4,140.0 221.7,142.2 220.0,141.0Z" fill="#f0606a" stroke="rgba(255,255,255,0.45)" stroke-width="0.5" stroke-linejoin="round"/>
<path d="M232.8,142.8 236.7,141.1 240.6,141.7 245.0,144.4 250.6,143.3 252.8,147.8 255.0,152.2 255.8,154.0 253.0,159.0 250.0,160.8 247.2,160.6 242.8,158.9 238.3,157.8 235.0,158.3 229.4,159.4 222.8,160.0 218.9,162.2 218.3,157.8 218.9,152.2 220.6,148.9 222.8,146.7 225.0,147.2 227.8,150.0 230.6,152.2 232.8,150.6 233.9,146.7Z" fill="#f0606a" stroke="rgba(255,255,255,0.45)" stroke-width="0.5" stroke-linejoin="round"/>
<path d="M218.9,162.2 222.8,160.0 229.4,159.4 235.0,158.3 238.3,157.8 242.8,158.9 247.2,160.6 250.0,160.8 250.8,165.8 247.5,170.0 248.0,176.7 243.0,179.0 239.0,181.7 235.8,180.0 231.7,177.5 230.8,173.0 225.0,171.7 220.8,170.8 219.0,165.8Z" fill="#ec1020" stroke="rgba(255,255,255,0.45)" stroke-width="0.5" stroke-linejoin="round"/>
<path d="M184.4,188.9 188.9,186.7 195.6,182.8 200.0,180.6 203.0,178.0 207.5,177.5 213.0,180.8 215.0,180.0 230.0,179.0 235.0,180.0 239.0,182.5 240.8,193.0 238.0,196.7 240.8,203.0 245.0,212.5 240.8,220.0 240.8,223.0 238.0,230.0 233.0,227.5 226.7,228.0 220.0,230.8 215.0,230.0 212.5,226.7 205.0,224.0 201.7,222.5 193.0,219.0 188.9,216.7 187.8,208.9 185.6,202.2 183.3,194.4Z" fill="#f0606a" stroke="rgba(255,255,255,0.45)" stroke-width="0.5" stroke-linejoin="round"/>
<path d="M174.0,226.7 178.3,222.5 186.7,217.5 188.9,216.7 193.0,219.0 201.7,222.5 205.0,224.0 212.5,226.7 213.0,229.0 210.8,233.0 205.0,237.5 198.0,236.7 191.7,235.8 187.5,240.8 184.0,240.0 182.5,241.7 177.5,235.0Z" fill="#a00810" stroke="rgba(255,255,255,0.45)" stroke-width="0.5" stroke-linejoin="round"/>
<path d="M213.0,229.0 212.5,226.7 215.0,230.0 220.0,230.8 226.7,228.0 233.0,227.5 238.0,230.0 237.5,235.0 233.0,235.8 228.0,236.7 223.0,240.8 217.5,242.5 214.0,245.8 206.7,244.0 204.0,241.7 205.0,237.5 210.8,233.0Z" fill="#a00810" stroke="rgba(255,255,255,0.45)" stroke-width="0.5" stroke-linejoin="round"/>
<path d="M157.5,252.5 163.0,251.7 170.0,250.8 178.0,250.0 177.5,245.8 182.5,241.7 184.0,240.0 187.5,240.8 191.7,235.8 198.0,236.7 205.0,237.5 204.0,241.7 206.7,244.0 202.5,248.0 201.7,255.0 200.0,258.0 193.0,260.0 187.5,260.8 183.0,260.0 182.5,256.7 175.0,255.8 168.0,257.5 162.5,255.8 158.0,256.7Z" fill="#fab0b4" stroke="rgba(255,255,255,0.45)" stroke-width="0.5" stroke-linejoin="round"/>
<path d="M206.7,244.0 214.0,245.8 217.5,242.5 223.0,240.8 228.0,236.7 233.0,235.8 237.5,235.0 240.0,237.5 243.0,240.0 240.0,241.7 237.5,249.0 235.8,256.0 231.7,258.5 226.7,260.6 220.6,263.9 214.4,265.0 206.7,261.1 200.6,257.8 201.7,255.0 202.5,248.0Z" fill="#fab0b4" stroke="rgba(255,255,255,0.45)" stroke-width="0.5" stroke-linejoin="round"/>
<path d="M183.0,260.0 187.5,260.8 193.0,260.0 200.0,258.0 200.6,257.8 198.3,261.1 197.2,265.6 196.1,269.4 191.1,270.0 186.7,271.1 184.4,271.7 183.9,270.0 184.0,265.8Z" fill="#8cff8c" stroke="rgba(255,255,255,0.45)" stroke-width="0.5" stroke-linejoin="round"/>
<path d="M200.6,257.8 206.7,261.1 214.4,265.0 220.6,263.9 221.7,266.7 222.8,271.7 220.0,270.6 214.4,272.2 207.8,271.7 203.3,271.7 199.4,273.3 201.0,277.2 205.6,282.2 211.1,287.2 216.7,291.7 220.6,294.4 221.1,297.2 217.8,295.6 212.2,292.8 206.7,289.4 202.2,286.7 197.8,283.3 195.0,279.4 192.2,275.6 190.0,272.2 188.3,273.9 186.7,276.7 185.0,273.9 184.4,271.7 186.7,271.1 191.1,270.0 196.1,269.4 197.2,265.6 198.3,261.1ZM189.4,273.3 191.2,273.0 192.2,278.0 190.6,278.2ZM193.8,279.0 195.4,278.8 197.2,282.6 195.8,283.0ZM198.9,285.3 201.5,286.6 202.0,287.6 199.2,286.6ZM203.3,291.0 209.5,292.5 210.0,293.5 203.6,292.2ZM206.7,293.4 214.0,294.6 214.4,295.4 207.0,294.4Z" fill="#8cff8c" stroke="rgba(255,255,255,0.45)" stroke-width="0.5" stroke-linejoin="round"/>
<path d="M137.5,266.8 139.0,264.0 143.0,266.7 147.5,263.0 152.5,265.0 155.8,260.8 160.0,261.7 162.5,259.0 158.0,256.7 162.5,255.8 168.0,257.5 175.0,255.8 182.5,256.7 183.0,260.0 184.0,265.8 185.0,270.0 184.0,270.8 180.8,269.0 176.7,273.0 176.7,275.0 175.8,281.0 179.0,286.0 184.0,290.0 187.5,295.0 191.7,301.0 198.0,305.0 205.0,305.0 204.0,309.0 208.0,310.0 216.7,313.5 224.0,319.0 223.0,322.7 218.0,319.0 213.0,317.7 210.0,322.7 210.0,327.7 214.0,328.5 214.0,332.7 211.7,336.0 208.0,342.7 205.8,341.0 206.7,334.0 205.0,327.7 200.0,323.5 195.0,319.0 190.0,316.0 183.0,312.7 176.7,308.5 172.5,303.5 166.7,297.7 162.5,292.7 160.0,286.8 155.0,283.5 148.0,283.5 141.7,287.7 138.0,282.7 139.0,277.7 136.7,272.7ZM148.0,315.0 155.0,313.5 157.5,317.7 157.5,326.0 156.7,332.7 152.5,335.0 148.0,333.5 149.0,326.0 146.7,319.0ZM180.0,345.0 186.7,343.5 195.0,344.0 202.5,341.0 204.0,343.5 201.7,348.5 202.5,355.0 198.0,356.8 191.7,352.7 185.0,350.0 180.8,347.7Z" fill="#fab0b4" stroke="rgba(255,255,255,0.45)" stroke-width="0.5" stroke-linejoin="round"/>
<path d="M240.0,241.7 243.0,240.0 246.7,238.0 256.7,237.5 263.0,234.0 267.5,231.7 273.0,236.7 279.0,244.0 280.0,244.4 282.8,249.4 285.0,256.1 288.9,255.0 293.9,253.9 293.3,259.4 290.0,262.8 289.4,267.2 290.6,271.7 283.0,270.8 280.0,271.0 275.0,272.7 270.0,276.0 261.7,277.7 253.0,277.7 247.8,276.7 245.6,273.3 237.8,270.6 233.9,266.7 230.6,262.2 226.7,260.6 231.7,258.5 235.8,256.0 237.5,249.0Z" fill="#fab0b4" stroke="rgba(255,255,255,0.45)" stroke-width="0.5" stroke-linejoin="round"/>
<path d="M247.8,276.7 253.0,277.7 261.7,277.7 270.0,276.0 275.0,272.7 280.0,271.0 290.6,271.7 287.8,276.1 287.2,281.7 288.3,287.0 288.8,289.4 283.0,290.0 280.0,292.7 281.4,295.9 278.7,295.3 277.6,298.7 272.0,299.8 264.2,299.2 257.0,302.0 254.2,304.2 254.0,299.0 250.8,295.0 249.0,289.0 250.0,284.0 246.7,279.0Z" fill="#ec1020" stroke="rgba(255,255,255,0.45)" stroke-width="0.5" stroke-linejoin="round"/>
<path d="M241.4,312.0 247.6,308.7 254.2,304.2 257.0,302.0 264.2,299.2 272.0,299.8 277.6,298.7 278.7,295.3 281.4,295.9 280.9,302.0 277.6,303.1 270.9,303.7 267.6,305.3 264.2,307.0 265.3,309.8 267.5,312.5 266.5,313.3 264.5,311.0 264.5,314.0 263.0,314.0 262.0,310.5 259.5,309.3 255.9,311.4 254.8,314.2 257.0,318.1 259.2,322.6 258.1,325.3 262.0,324.2 265.3,326.4 269.8,329.8 272.0,332.6 270.9,333.7 270.3,335.9 266.4,334.8 264.2,337.6 265.3,339.8 262.6,342.0 264.2,346.4 262.6,349.2 260.3,347.6 258.7,350.9 255.9,347.6 254.2,349.2 252.6,346.4 250.3,342.6 247.6,338.7 248.5,335.5 246.4,332.6 243.1,328.7 239.8,324.8 238.1,321.4 240.3,317.6ZM270.9,359.2 276.4,358.1 283.1,358.7 288.7,357.6 293.1,357.6 293.7,358.7 289.8,360.3 284.2,362.0 278.7,362.6 273.1,362.0 270.9,361.0ZM281.4,318.3 286.4,318.5 286.6,320.2 283.5,320.6 281.4,319.8ZM284.8,324.5 286.2,324.5 286.3,327.0 284.8,327.0ZM290.3,331.3 292.6,331.3 292.6,332.8 290.3,332.8ZM304.2,342.0 305.9,343.5 304.6,347.6 303.2,347.6 303.4,344.2ZM233.2,319.5 234.6,320.3 235.5,323.0 234.2,322.8ZM241.6,335.0 243.8,335.0 244.0,337.8 241.8,337.5ZM244.2,339.0 245.8,339.2 245.6,341.0 244.2,340.6ZM240.8,331.5 242.0,331.5 242.0,334.0 240.8,334.0ZM268.0,302.6 270.0,302.6 270.0,304.4 268.0,304.4ZM274.0,312.0 276.6,312.0 276.6,314.0 274.0,314.0ZM274.5,336.0 276.0,336.0 276.5,338.0 275.0,338.3ZM277.5,339.0 279.0,338.8 279.6,340.6 278.0,341.0ZM279.5,343.5 282.2,343.2 282.4,345.2 280.0,345.5ZM283.2,340.2 285.0,340.0 285.0,342.0 283.4,342.0ZM275.5,344.8 277.2,344.6 277.4,346.4 275.7,346.6ZM288.0,336.6 289.8,336.6 289.8,338.4 288.0,338.4ZM294.5,339.0 296.8,339.5 296.4,341.0 294.5,340.6ZM262.8,320.5 265.0,320.7 264.8,322.0 262.8,321.8Z" fill="#f0606a" stroke="rgba(255,255,255,0.45)" stroke-width="0.5" stroke-linejoin="round"/>
<path d="M338.7,344.5 342.8,340.8 347.0,339.1 351.2,335.8 354.1,333.7 352.8,337.5 352.0,341.6 348.7,344.1 346.2,346.2 342.8,347.9 340.3,347.0Z" fill="#ec1020" stroke="rgba(255,255,255,0.45)" stroke-width="0.5" stroke-linejoin="round"/>
<path d="M192.0,364.0 194.0,365.0 196.0,367.0 194.5,367.0 192.0,365.5Z" fill="#fab0b4" stroke="rgba(255,255,255,0.45)" stroke-width="0.5" stroke-linejoin="round"/>
<path d="M130.6,196.7 132.2,195.6 133.3,198.9 131.7,203.3 130.6,203.9 131.1,200.0Z" fill="#fff"/>
<circle cx="99.7" cy="297.2" r="1.2" fill="#808080"/>
<circle cx="139.7" cy="289" r="1.0" fill="#808080"/>
<circle cx="177.3" cy="286.8" r="1.2" fill="#808080"/>
<circle cx="80" cy="226" r="1.5" fill="#808080"/>
<circle cx="82.9" cy="230" r="1.5" fill="#808080"/>
<circle cx="76.7" cy="178.9" r="1.0" fill="#808080"/>
<path d="M280.9,302.0 277.6,303.9 277.6,315.0 275.3,316.1" fill="none" stroke="#f0606a" stroke-opacity="0.55" stroke-width="0.6"/>
<path d="M281.4,326.1 285.3,326.1 285.3,329.5 287.6,330.6 287.6,336.1 292.6,332.8 294.2,331.7 296.4,340.6 298.7,341.7 304.2,345.0 305.3,348.4 304.2,350.6 300.3,352.8 299.8,358.4 294.2,359.5" fill="none" stroke="#f0606a" stroke-opacity="0.55" stroke-width="0.6"/>
<path d="M265.9,352.8 265.9,360.0 272.0,360.0" fill="none" stroke="#f0606a" stroke-opacity="0.55" stroke-width="0.6"/>
<path d="M276.4,335.0 280.9,338.4 279.8,342.8 284.2,341.7 285.3,345.0 286.4,348.4" fill="none" stroke="#f0606a" stroke-opacity="0.55" stroke-width="0.6"/>
<path d="M275.9,339.5 277.6,345.0 276.4,347.2" fill="none" stroke="#f0606a" stroke-opacity="0.55" stroke-width="0.6"/>
<path d="M268.0,314.0 272.0,316.0 274.8,315.6" fill="none" stroke="#f0606a" stroke-opacity="0.55" stroke-width="0.6"/>
<path d="M264.0,322.0 268.0,321.0 271.0,324.0 275.0,327.0 281.4,326.1" fill="none" stroke="#f0606a" stroke-opacity="0.55" stroke-width="0.6"/>
<path d="M249.0,335.6 255.0,334.2 261.5,333.6" fill="none" stroke="#fff" stroke-width="0.7"/>
<path d="M135.8,294.3 135.8,301.8 150.0,301.8" fill="none" stroke="#fab0b4" stroke-opacity="0.6" stroke-width="0.6"/>
<path d="M158.3,316.8 181.7,316.8 181.7,311.8" fill="none" stroke="#fab0b4" stroke-opacity="0.6" stroke-width="0.6"/>
<path d="M167.5,356.8 176.7,356.8" fill="none" stroke="#fab0b4" stroke-opacity="0.6" stroke-width="0.6"/>
<path d="M56.7,350.0 56.7,365.0" fill="none" stroke="#8cff8c" stroke-opacity="0.6" stroke-width="0.6"/>
<path d="M93.0,332.7 106.7,331.0 116.7,326.0" fill="none" stroke="#8cff8c" stroke-opacity="0.6" stroke-width="0.6"/>
<path d="M96.7,131.7 102.8,131.7 103.3,127.8" fill="none" stroke="#3cff3c" stroke-opacity="0.6" stroke-width="0.6"/>
<path d="M208.3,124.4 214.4,124.4" fill="none" stroke="#f0606a" stroke-opacity="0.6" stroke-width="0.6"/>
<path d="M193.9,163.9 196.7,154.4 201.7,154.4" fill="none" stroke="#3cff3c" stroke-opacity="0.6" stroke-width="0.6"/>
<path d="M171.7,179.1 186.7,179.1 186.7,177.8" fill="none" stroke="#8cff8c" stroke-opacity="0.6" stroke-width="0.6"/>
<path d="M215.6,173.0 215.6,127.2 226.7,127.2 232.2,122.8 247.2,122.5" fill="none" stroke="#b8b8b8" stroke-width="0.5"/>
</g></g>
<clipPath id="c3"><rect x="360" y="368.2" width="360" height="369"/></clipPath>
<g clip-path="url(#c3)"><g transform="translate(361.7,366.3)">
<path d="M252.0,21.0 250.0,20.8 244.4,22.2 238.9,19.4 233.3,20.8 229.9,16.7 230.6,13.9 225.7,13.2 222.2,15.3 219.4,11.1 216.7,13.2 213.9,11.8 211.1,12.5 209.7,15.3 205.6,15.3 204.9,18.8 201.4,19.4 198.6,22.9 195.8,22.9 194.4,26.4 190.3,25.7 188.9,29.2 186.8,33.3 184.0,34.7 183.3,38.9 179.9,37.5 177.1,41.7 174.3,45.8 169.4,50.7 176.4,47.2 179.9,47.2 177.8,52.8 175.0,56.9 172.9,61.1 170.8,66.7 168.1,72.2 166.7,77.8 163.3,81.1 160.6,86.7 157.8,92.2 156.7,94.4 153.3,93.9 149.4,97.2 146.7,100.0 143.9,101.7 140.0,106.1 136.1,108.9 135.0,115.6 134.2,124.4 135.3,135.6 136.7,142.2 141.1,147.8 146.7,149.4 152.2,145.6 156.7,140.6 161.1,135.6 163.9,138.3 166.7,140.6 172.0,138.0 178.0,118.0 178.0,98.0 184.0,80.0 188.0,62.0 195.0,48.0 204.0,44.0 214.0,44.0 222.0,38.0 230.0,34.0 240.0,32.0 252.0,32.0Z" fill="#808080"/>
<path d="M238.0,20.0 240.0,21.7 250.0,20.8 261.7,23.3 271.7,26.7 277.5,31.7 279.0,38.3 275.8,45.0 271.7,48.3 260.0,49.0 253.0,48.0 245.0,45.0 250.0,49.0 258.0,53.0 260.0,58.0 265.0,65.0 273.0,68.0 277.5,66.7 275.8,64.0 271.0,62.5 269.0,58.3 273.0,56.7 283.0,57.5 285.0,55.8 279.0,50.0 280.0,43.0 282.5,37.5 288.0,35.8 290.8,34.0 289.0,29.0 285.0,25.0 284.0,18.0 279.0,15.8 284.0,12.5 290.0,13.0 292.5,16.7 289.0,21.7 290.0,25.0 295.8,26.7 299.0,23.0 300.0,18.0 297.5,15.0 301.7,10.0 304.0,5.0 306.7,0.0 362.0,0.0 362.0,245.6 355.6,245.0 348.9,244.4 342.2,242.8 338.3,242.2 340.0,239.4 343.3,237.2 342.2,231.1 345.6,228.9 340.6,225.0 346.7,218.9 345.6,217.2 338.9,221.7 334.4,225.6 328.9,230.6 325.0,235.0 322.8,238.3 318.9,238.9 314.4,240.6 310.0,242.2 307.2,240.6 306.7,238.3 302.2,239.4 298.3,241.1 296.7,245.0 295.6,249.4 293.9,253.9 285.0,262.0 270.0,255.0 250.0,250.0 234.0,245.0 232.0,232.0 234.0,215.0 234.0,185.0 243.0,175.0 243.0,165.0 247.0,150.0 245.0,140.0 243.0,128.0 247.2,122.2 248.3,120.6 251.7,118.3 255.0,117.8 256.1,116.1 251.7,116.1 247.2,113.9 245.6,112.2 242.0,108.0 246.0,95.0 242.0,80.0 236.0,62.0 228.0,45.0 224.0,30.0ZM291.8,-1.0 293.2,3.5 296.0,4.9 298.0,1.4 298.0,-1.0ZM362.0,277.2 354.4,277.8 350.0,278.3 345.6,276.1 340.0,277.2 337.8,275.6 332.2,277.2 326.7,280.0 322.2,283.3 318.9,287.0 315.6,290.6 310.0,292.5 300.0,294.4 300.0,295.0 305.0,298.0 301.0,300.6 295.0,303.0 291.0,302.5 288.8,305.6 283.8,307.5 282.5,312.5 283.8,315.6 287.5,316.9 288.8,320.0 287.5,323.8 291.0,325.6 293.8,330.0 296.0,335.0 300.0,338.0 305.0,337.5 311.0,339.4 316.0,340.6 321.0,338.0 322.0,332.5 326.0,331.0 332.5,332.0 337.5,334.4 343.8,332.5 348.8,327.5 352.5,323.8 357.5,324.4 362.0,322.5ZM288.8,289.4 290.6,291.3 295.0,293.8 299.4,294.4 299.4,296.9 293.8,298.0 289.4,300.0 285.0,303.8 281.0,305.6 279.4,304.4 280.6,299.4 279.0,296.0 279.0,292.7 283.0,289.0 287.0,287.0Z" fill="#808080"/>
<path d="M322.2,237.5 316.7,241.7 312.2,245.6 309.4,248.3 313.3,248.9 317.8,250.6 318.3,254.4 322.2,254.4 324.4,250.6 327.8,247.8 330.6,245.6 334.4,243.9 337.8,242.8 337.2,240.6 333.3,241.1 330.0,243.3 327.8,244.4 325.6,241.7 323.2,238.3Z" fill="#808080"/>
<path d="M226.7,260.6 230.6,262.2 233.9,266.7 237.8,270.6 245.6,273.3 247.8,276.7 246.7,279.0 250.0,284.0 249.0,289.0 250.8,295.0 254.0,299.0 254.2,304.2 247.6,308.7 241.4,312.0 240.3,317.6 238.1,321.4 237.2,323.3 235.6,322.2 232.2,317.8 230.0,313.3 230.6,307.8 229.4,302.2 225.6,300.0 221.1,297.2 220.6,294.4 216.7,291.7 211.1,287.2 205.6,282.2 201.0,277.2 199.4,273.3 203.3,271.7 207.8,271.7 214.4,272.2 220.0,270.6 222.8,271.7 221.7,266.7 220.6,263.9Z" fill="#808080"/>
<path d="M133.0,264.0 135.8,259.0 140.8,253.0 143.0,251.7 150.8,250.0 157.5,252.5 158.0,256.7 162.5,259.0 160.0,261.7 155.8,260.8 152.5,265.0 147.5,263.0 143.0,266.7 139.0,264.0Z" fill="#808080"/>
<path d="M220.8,170.8 225.0,171.7 230.8,173.0 231.7,177.5 235.8,180.0 230.0,179.0 215.0,180.0 215.0,175.8 219.0,175.0Z" fill="#808080"/>
<path d="M22.5,368.0 30.8,354.0 35.8,354.0 38.0,359.0 41.7,362.7 50.0,363.5 56.7,365.0 63.0,366.8 70.0,362.7 78.0,361.0 83.0,357.7 93.0,356.0 106.7,355.0 118.0,356.0 125.0,356.8 131.7,354.0 138.0,355.0 145.8,356.0 151.7,353.5 158.0,351.8 160.8,354.0 163.0,357.7 168.0,355.0 167.5,358.5 164.0,362.7 165.8,368.0Z" fill="#808080"/>
<path d="M295.0,209.6 300.0,210.6 304.4,212.4 304.4,213.2 299.0,211.8 295.0,210.4Z" fill="#fff"/>
<path d="M318.0,219.2 321.0,222.8 316.0,225.9 313.2,229.0 312.6,231.7 311.8,231.7 312.4,228.7 315.3,225.3 320.0,222.6 317.6,219.6Z" fill="#fff"/>
<path d="M267.5,82.5 272.5,83.3 275.8,88.3 280.0,94.0 280.8,98.3 278.3,99.0 275.0,95.0 270.8,92.5 268.3,86.7Z" fill="#fff"/>
<path d="M255.0,99.0 261.7,100.8 266.7,105.8 266.7,110.8 262.5,115.0 258.3,111.7 253.3,106.7 251.7,103.3Z" fill="#fff"/>
<path d="M288.3,101.7 291.7,100.0 293.3,102.5 290.0,104.0Z" fill="#fff"/>
<path d="M294.0,112.5 298.3,111.7 303.3,115.8 301.7,120.0 296.7,118.3 294.0,115.0Z" fill="#fff"/>
<path d="M255.8,155.8 261.7,155.0 266.7,156.7 270.0,155.0 273.0,158.0 274.0,163.0 280.0,168.0 286.7,171.7 287.5,175.8 282.5,178.0 282.5,182.5 285.8,186.7" fill="none" stroke="#dadada" stroke-width="0.65"/>
<path d="M285.8,186.7 281.7,190.0 281.7,195.8 271.7,196.7 263.0,198.0 253.0,198.0 245.0,200.0 240.8,203.0" fill="none" stroke="#dadada" stroke-width="0.65"/>
<path d="M285.8,186.7 290.0,185.8 293.0,181.7 298.0,180.8 303.0,186.7 306.7,190.0 313.0,196.7 320.0,195.0 330.0,194.0 341.7,195.0 344.0,201.7 345.6,205.0 346.7,209.4 341.7,212.2 338.9,216.1 339.4,220.6" fill="none" stroke="#dadada" stroke-width="0.65"/>
<path d="M267.5,231.7 270.0,229.0 276.7,228.0 280.0,228.9 284.4,231.7 288.3,237.2 292.2,241.7 295.6,244.4" fill="none" stroke="#dadada" stroke-width="0.65"/>
<path d="M295.6,244.4 291.1,243.9 286.1,244.4 285.5,250.0 285.0,254.0" fill="none" stroke="#dadada" stroke-width="0.65"/>
<path d="M222.8,271.7 224.4,277.0 223.9,281.0 225.6,285.3 221.5,288.5 220.6,294.4" fill="none" stroke="#dadada" stroke-width="0.65"/>
<path d="M225.6,285.3 229.5,288.0 233.0,291.5 231.3,295.0 229.3,295.6 229.4,302.2" fill="none" stroke="#dadada" stroke-width="0.65"/>
<path d="M231.3,295.0 234.0,296.0 237.0,299.5 236.8,304.0 238.5,308.5 241.4,312.0" fill="none" stroke="#dadada" stroke-width="0.65"/>
<path d="M237.0,299.5 240.0,297.2 244.0,295.5 250.0,294.5" fill="none" stroke="#dadada" stroke-width="0.65"/>
<path d="M233.0,291.5 235.8,289.7 239.2,290.7 240.8,293.5 244.0,295.5" fill="none" stroke="#dadada" stroke-width="0.65"/>
<path d="M145.8,356.0 146.7,368.0" fill="none" stroke="#dadada" stroke-width="0.65"/>
<path d="M55.0,168.3 58.9,165.6 64.4,165.0 65.6,167.2 61.7,170.6 58.9,172.8 60.6,175.0 63.3,176.7 65.6,175.6 66.7,178.9 67.5,182.5 65.8,190.0 63.0,194.0 57.5,196.7 51.7,195.8 45.0,198.0 40.0,195.8 39.0,190.8 41.7,189.4 45.0,186.7 46.7,182.2 43.9,180.0 45.6,176.7 46.1,172.2 49.4,171.7 56.1,170.6Z" fill="#00dc00" stroke="rgba(255,255,255,0.45)" stroke-width="0.5" stroke-linejoin="round"/>
<path d="M82.8,136.7 92.8,137.8 93.3,140.0 87.8,143.3 86.1,147.2 96.7,148.3 97.2,150.6 93.9,156.7 91.1,160.0 88.3,163.3 92.8,164.4 95.6,168.9 96.1,175.6 100.6,182.2 102.8,190.0 103.0,195.0 108.0,196.7 110.8,200.8 109.0,206.7 105.0,209.0 108.0,211.7 104.0,215.0 95.8,215.8 90.0,215.0 81.7,214.0 76.7,215.0 68.0,215.8 63.0,217.5 70.0,211.7 75.0,209.0 81.7,208.0 76.7,206.7 72.5,204.0 69.0,201.7 75.0,199.0 76.7,193.0 74.4,190.0 76.1,186.7 82.8,187.8 84.4,183.3 83.9,178.9 82.8,174.4 76.7,173.9 76.1,170.6 77.8,165.6 76.7,161.1 77.8,156.7 76.7,151.1 77.2,145.6 79.4,141.1ZM58.9,172.8 61.7,170.6 65.0,167.8 70.0,167.2 71.1,170.6 72.2,175.0 68.3,177.8 65.6,175.6 63.3,176.7 60.6,175.0ZM91.7,133.9 95.6,131.7 96.7,132.8 93.9,136.1ZM102.2,123.3 106.1,118.9 107.2,119.4 104.4,125.0 103.3,127.8 102.6,127.5ZM71.1,139.4 76.7,136.1 76.1,138.9 73.3,141.7 69.4,142.8 67.4,149.4 66.6,149.0 68.4,142.2ZM71.7,144.4 75.0,145.6 75.0,150.0 72.8,148.9ZM69.4,154.4 75.0,153.9 74.0,157.8 70.5,157.0ZM69.4,162.2 73.9,158.9 75.0,162.2 72.2,164.4ZM73.3,163.3 76.1,162.2 76.7,166.7 74.0,167.8Z" fill="#009600" stroke="rgba(255,255,255,0.45)" stroke-width="0.5" stroke-linejoin="round"/>
<path d="M23.0,290.0 28.0,290.0 37.5,292.7 40.0,296.8 35.8,301.0 35.0,307.7 30.8,314.0 26.7,321.0 27.5,327.7 22.5,334.0 23.0,338.5 16.7,336.8 10.8,336.8 13.0,329.0 11.7,322.7 12.5,316.0 16.7,311.0 20.0,302.7 22.5,296.0Z" fill="#3cff3c" stroke="rgba(255,255,255,0.45)" stroke-width="0.5" stroke-linejoin="round"/>
<path d="M23.0,277.7 33.0,274.0 41.7,277.7 55.0,281.8 66.7,284.0 76.7,286.0 81.7,291.0 90.0,295.0 98.0,296.8 105.0,299.0 110.8,299.0 110.0,304.0 101.7,309.0 92.5,313.5 88.0,321.0 82.5,326.0 81.7,331.0 84.0,334.0 78.0,338.5 75.0,344.0 66.7,346.8 61.7,350.0 55.0,349.0 46.7,348.5 40.0,350.0 35.0,352.7 30.8,350.0 29.0,342.7 23.0,338.5 22.5,334.0 27.5,327.7 26.7,321.0 30.8,314.0 35.0,307.7 35.8,301.0 40.0,296.8 37.5,292.7 28.0,290.0 23.0,290.0 22.5,284.0ZM101.7,326.0 108.0,323.5 110.8,326.0 105.8,329.0ZM113.0,324.0 116.7,324.0 116.7,325.5 113.0,325.5ZM92.0,331.0 94.5,331.0 94.5,333.0 92.0,333.0Z" fill="#00dc00" stroke="rgba(255,255,255,0.45)" stroke-width="0.5" stroke-linejoin="round"/>
<path d="M108.1,216.9 112.5,215.8 116.7,220.0 122.5,223.3 128.0,225.8 130.0,229.5 133.5,228.5 134.0,232.0 136.7,231.7 145.8,237.5 144.0,245.0 143.0,251.7 140.8,253.0 135.8,259.0 133.0,264.0 139.0,264.0 137.5,266.8 136.7,272.7 139.0,277.7 138.0,282.7 141.7,287.7 140.0,289.0 131.0,292.0 124.0,288.5 116.7,290.0 111.7,293.5 110.8,299.0 105.0,299.0 98.0,296.8 90.0,295.0 81.7,291.0 76.7,286.0 80.6,280.0 83.1,272.5 85.0,265.0 83.1,258.0 80.6,251.2 78.8,246.2 73.8,244.4 68.8,241.2 65.0,238.0 65.0,233.5 71.7,232.5 78.0,233.0 85.8,234.5 85.6,225.6 88.8,226.2 91.0,228.5 96.2,229.4 100.0,226.0 102.5,224.4 108.1,221.9ZM155.0,296.0 156.0,302.7 155.8,309.0 153.0,311.8 150.8,307.7 150.0,301.8 153.0,299.0Z" fill="#009600" stroke="rgba(255,255,255,0.45)" stroke-width="0.5" stroke-linejoin="round"/>
<path d="M112.5,215.8 116.7,214.0 121.1,213.3 126.7,212.8 131.1,212.8 132.8,214.4 134.4,215.6 135.0,221.7 135.8,226.7 133.5,226.7 133.5,228.5 130.0,229.5 128.0,225.8 122.5,223.3 116.7,220.0Z" fill="#3cff3c" stroke="rgba(255,255,255,0.45)" stroke-width="0.5" stroke-linejoin="round"/>
<path d="M131.1,194.4 134.4,193.3 140.6,193.3 142.2,196.7 140.6,201.1 141.1,204.4 137.8,208.9 135.6,211.1 134.4,215.6 132.8,214.4 131.1,212.8 126.7,212.8 121.1,213.3 120.0,211.1 125.0,206.7 127.2,202.2 128.9,196.7Z" fill="#009600" stroke="rgba(255,255,255,0.45)" stroke-width="0.5" stroke-linejoin="round"/>
<path d="M133.5,226.7 135.8,226.7 136.7,231.7 134.0,232.0 133.5,228.5Z" fill="#009600" stroke="rgba(255,255,255,0.45)" stroke-width="0.5" stroke-linejoin="round"/>
<path d="M150.0,179.4 152.2,178.9 157.8,179.4 160.0,183.3 164.4,187.8 167.8,186.7 170.0,184.4 174.4,183.9 177.8,182.2 180.0,185.6 182.2,187.8 184.4,188.9 183.3,194.4 185.6,202.2 187.8,208.9 188.9,216.7 186.7,217.5 178.0,222.5 174.0,226.7 177.5,235.0 182.5,241.7 177.5,245.8 178.0,250.0 170.0,250.8 163.0,251.7 157.5,252.5 150.8,250.0 143.0,251.7 144.0,245.0 145.8,237.5 136.7,231.7 135.8,226.7 135.0,221.7 134.4,215.6 135.6,211.1 137.8,208.9 141.1,204.4 140.6,201.1 142.2,196.7 140.6,193.3 142.8,192.2 149.4,192.2 154.0,192.4 152.8,188.9 152.2,184.4Z" fill="#3cff3c" stroke="rgba(255,255,255,0.45)" stroke-width="0.5" stroke-linejoin="round"/>
<path d="M161.7,153.3 157.8,156.1 153.3,158.9 150.0,162.2 149.1,167.8 149.4,173.3 152.2,178.9 157.8,179.4 157.2,175.6 158.3,172.2 160.6,170.0 161.7,166.7 163.3,165.0 161.7,162.2 161.1,157.8ZM158.3,174.4 161.7,173.3 163.3,175.6 161.7,178.3 158.9,177.2ZM165.0,172.2 167.8,170.0 171.1,167.8 173.3,170.0 172.8,174.4 170.6,176.7 170.0,180.0 167.2,182.2 164.4,180.6 166.1,177.8 165.0,175.6ZM185.6,175.6 186.6,175.8 187.2,177.2 186.0,177.0Z" fill="#808080" stroke="rgba(255,255,255,0.45)" stroke-width="0.5" stroke-linejoin="round"/>
<path d="M197.2,37.5 195.8,41.7 189.6,43.8 187.5,48.6 183.3,53.5 182.6,59.7 179.9,65.3 177.8,72.2 177.1,81.9 174.4,84.4 176.1,87.8 171.1,90.0 168.9,94.4 168.3,102.2 169.4,112.2 171.7,116.7 169.4,121.1 171.1,126.7 168.9,132.2 167.8,140.6 165.0,140.6 166.7,148.9 168.9,156.7 172.2,163.3 174.4,167.8 175.6,173.3 178.3,175.3 182.2,173.9 183.3,170.0 185.6,167.8 191.1,166.7 192.8,162.2 193.9,154.4 194.4,146.7 194.4,142.2 198.3,138.9 201.7,134.4 203.3,128.9 199.4,124.4 193.9,120.0 193.3,112.2 192.8,104.4 195.6,98.9 195.8,100.0 200.0,94.4 204.9,88.9 207.6,83.3 206.2,80.6 207.6,75.0 211.1,69.4 216.7,68.0 215.3,65.3 213.2,58.3 211.1,52.8 209.7,45.8 204.9,40.3ZM205.6,147.2 206.7,146.7 205.6,152.2 203.3,157.8 202.2,156.7 201.7,152.2 203.9,148.3ZM196.1,154.4 196.9,154.6 194.6,163.9 193.8,163.7Z" fill="#009600" stroke="rgba(255,255,255,0.45)" stroke-width="0.5" stroke-linejoin="round"/>
<path d="M216.0,25.0 220.1,21.5 225.7,24.3 226.4,33.3 231.9,40.3 234.0,47.2 238.9,55.6 241.0,66.7 245.8,73.6 247.2,79.2 250.0,80.6 253.0,85.0 255.6,90.0 253.9,95.6 251.7,102.2 249.4,106.7 246.1,111.1 241.7,115.0 235.0,118.9 229.4,122.2 223.3,125.0 219.4,122.8 215.0,120.6 212.8,114.4 211.1,106.7 209.4,100.0 211.1,94.4 215.3,87.5 218.8,80.6 222.2,73.6 220.8,69.4 216.7,68.0 215.3,65.3 213.2,58.3 211.1,52.8 209.7,45.8 204.9,40.3 197.2,37.5 199.3,33.3 203.5,37.5 208.3,39.6 214.6,36.8 216.7,34.7ZM205.6,123.9 207.8,122.8 208.3,124.4 206.1,125.6Z" fill="#00dc00" stroke="rgba(255,255,255,0.45)" stroke-width="0.5" stroke-linejoin="round"/>
<path d="M247.2,125.0 242.8,125.6 236.1,125.6 231.7,127.8 227.8,130.6 226.1,133.3 227.2,136.7 229.4,138.9 232.8,139.4 232.8,142.8 236.7,141.1 240.6,141.7 245.0,144.4 250.6,143.3 248.9,138.9 246.7,134.4 246.7,128.9ZM220.0,135.0 222.8,133.9 223.9,135.6 221.1,136.7ZM220.0,138.9 223.3,137.2 226.7,137.8 224.4,140.0 221.7,142.2 220.0,141.0Z" fill="#3cff3c" stroke="rgba(255,255,255,0.45)" stroke-width="0.5" stroke-linejoin="round"/>
<path d="M232.8,142.8 236.7,141.1 240.6,141.7 245.0,144.4 250.6,143.3 252.8,147.8 255.0,152.2 255.8,154.0 253.0,159.0 250.0,160.8 247.2,160.6 242.8,158.9 238.3,157.8 235.0,158.3 229.4,159.4 222.8,160.0 218.9,162.2 218.3,157.8 218.9,152.2 220.6,148.9 222.8,146.7 225.0,147.2 227.8,150.0 230.6,152.2 232.8,150.6 233.9,146.7Z" fill="#3cff3c" stroke="rgba(255,255,255,0.45)" stroke-width="0.5" stroke-linejoin="round"/>
<path d="M218.9,162.2 222.8,160.0 229.4,159.4 235.0,158.3 238.3,157.8 242.8,158.9 247.2,160.6 250.0,160.8 250.8,165.8 247.5,170.0 248.0,176.7 243.0,179.0 239.0,181.7 235.8,180.0 231.7,177.5 230.8,173.0 225.0,171.7 220.8,170.8 219.0,165.8Z" fill="#fab0b4" stroke="rgba(255,255,255,0.45)" stroke-width="0.5" stroke-linejoin="round"/>
<path d="M184.4,188.9 188.9,186.7 195.6,182.8 200.0,180.6 203.0,178.0 207.5,177.5 213.0,180.8 215.0,180.0 230.0,179.0 235.0,180.0 239.0,182.5 240.8,193.0 238.0,196.7 240.8,203.0 245.0,212.5 240.8,220.0 240.8,223.0 238.0,230.0 233.0,227.5 226.7,228.0 220.0,230.8 215.0,230.0 212.5,226.7 205.0,224.0 201.7,222.5 193.0,219.0 188.9,216.7 187.8,208.9 185.6,202.2 183.3,194.4Z" fill="#8cff8c" stroke="rgba(255,255,255,0.45)" stroke-width="0.5" stroke-linejoin="round"/>
<path d="M174.0,226.7 178.3,222.5 186.7,217.5 188.9,216.7 193.0,219.0 201.7,222.5 205.0,224.0 212.5,226.7 213.0,229.0 210.8,233.0 205.0,237.5 198.0,236.7 191.7,235.8 187.5,240.8 184.0,240.0 182.5,241.7 177.5,235.0Z" fill="#fab0b4" stroke="rgba(255,255,255,0.45)" stroke-width="0.5" stroke-linejoin="round"/>
<path d="M213.0,229.0 212.5,226.7 215.0,230.0 220.0,230.8 226.7,228.0 233.0,227.5 238.0,230.0 237.5,235.0 233.0,235.8 228.0,236.7 223.0,240.8 217.5,242.5 214.0,245.8 206.7,244.0 204.0,241.7 205.0,237.5 210.8,233.0Z" fill="#f0606a" stroke="rgba(255,255,255,0.45)" stroke-width="0.5" stroke-linejoin="round"/>
<path d="M157.5,252.5 163.0,251.7 170.0,250.8 178.0,250.0 177.5,245.8 182.5,241.7 184.0,240.0 187.5,240.8 191.7,235.8 198.0,236.7 205.0,237.5 204.0,241.7 206.7,244.0 202.5,248.0 201.7,255.0 200.0,258.0 193.0,260.0 187.5,260.8 183.0,260.0 182.5,256.7 175.0,255.8 168.0,257.5 162.5,255.8 158.0,256.7Z" fill="#3cff3c" stroke="rgba(255,255,255,0.45)" stroke-width="0.5" stroke-linejoin="round"/>
<path d="M206.7,244.0 214.0,245.8 217.5,242.5 223.0,240.8 228.0,236.7 233.0,235.8 237.5,235.0 240.0,237.5 243.0,240.0 240.0,241.7 237.5,249.0 235.8,256.0 231.7,258.5 226.7,260.6 220.6,263.9 214.4,265.0 206.7,261.1 200.6,257.8 201.7,255.0 202.5,248.0Z" fill="#3cff3c" stroke="rgba(255,255,255,0.45)" stroke-width="0.5" stroke-linejoin="round"/>
<path d="M183.0,260.0 187.5,260.8 193.0,260.0 200.0,258.0 200.6,257.8 198.3,261.1 197.2,265.6 196.1,269.4 191.1,270.0 186.7,271.1 184.4,271.7 183.9,270.0 184.0,265.8Z" fill="#8cff8c" stroke="rgba(255,255,255,0.45)" stroke-width="0.5" stroke-linejoin="round"/>
<path d="M200.6,257.8 206.7,261.1 214.4,265.0 220.6,263.9 221.7,266.7 222.8,271.7 220.0,270.6 214.4,272.2 207.8,271.7 203.3,271.7 199.4,273.3 201.0,277.2 205.6,282.2 211.1,287.2 216.7,291.7 220.6,294.4 221.1,297.2 217.8,295.6 212.2,292.8 206.7,289.4 202.2,286.7 197.8,283.3 195.0,279.4 192.2,275.6 190.0,272.2 188.3,273.9 186.7,276.7 185.0,273.9 184.4,271.7 186.7,271.1 191.1,270.0 196.1,269.4 197.2,265.6 198.3,261.1ZM189.4,273.3 191.2,273.0 192.2,278.0 190.6,278.2ZM193.8,279.0 195.4,278.8 197.2,282.6 195.8,283.0ZM198.9,285.3 201.5,286.6 202.0,287.6 199.2,286.6ZM203.3,291.0 209.5,292.5 210.0,293.5 203.6,292.2ZM206.7,293.4 214.0,294.6 214.4,295.4 207.0,294.4Z" fill="#8cff8c" stroke="rgba(255,255,255,0.45)" stroke-width="0.5" stroke-linejoin="round"/>
<path d="M137.5,266.8 139.0,264.0 143.0,266.7 147.5,263.0 152.5,265.0 155.8,260.8 160.0,261.7 162.5,259.0 158.0,256.7 162.5,255.8 168.0,257.5 175.0,255.8 182.5,256.7 183.0,260.0 184.0,265.8 185.0,270.0 184.0,270.8 180.8,269.0 176.7,273.0 176.7,275.0 175.8,281.0 179.0,286.0 184.0,290.0 187.5,295.0 191.7,301.0 198.0,305.0 205.0,305.0 204.0,309.0 208.0,310.0 216.7,313.5 224.0,319.0 223.0,322.7 218.0,319.0 213.0,317.7 210.0,322.7 210.0,327.7 214.0,328.5 214.0,332.7 211.7,336.0 208.0,342.7 205.8,341.0 206.7,334.0 205.0,327.7 200.0,323.5 195.0,319.0 190.0,316.0 183.0,312.7 176.7,308.5 172.5,303.5 166.7,297.7 162.5,292.7 160.0,286.8 155.0,283.5 148.0,283.5 141.7,287.7 138.0,282.7 139.0,277.7 136.7,272.7ZM148.0,315.0 155.0,313.5 157.5,317.7 157.5,326.0 156.7,332.7 152.5,335.0 148.0,333.5 149.0,326.0 146.7,319.0ZM180.0,345.0 186.7,343.5 195.0,344.0 202.5,341.0 204.0,343.5 201.7,348.5 202.5,355.0 198.0,356.8 191.7,352.7 185.0,350.0 180.8,347.7Z" fill="#00dc00" stroke="rgba(255,255,255,0.45)" stroke-width="0.5" stroke-linejoin="round"/>
<path d="M240.0,241.7 243.0,240.0 246.7,238.0 256.7,237.5 263.0,234.0 267.5,231.7 273.0,236.7 279.0,244.0 280.0,244.4 282.8,249.4 285.0,256.1 288.9,255.0 293.9,253.9 293.3,259.4 290.0,262.8 289.4,267.2 290.6,271.7 283.0,270.8 280.0,271.0 275.0,272.7 270.0,276.0 261.7,277.7 253.0,277.7 247.8,276.7 245.6,273.3 237.8,270.6 233.9,266.7 230.6,262.2 226.7,260.6 231.7,258.5 235.8,256.0 237.5,249.0Z" fill="#fab0b4" stroke="rgba(255,255,255,0.45)" stroke-width="0.5" stroke-linejoin="round"/>
<path d="M247.8,276.7 253.0,277.7 261.7,277.7 270.0,276.0 275.0,272.7 280.0,271.0 290.6,271.7 287.8,276.1 287.2,281.7 288.3,287.0 288.8,289.4 283.0,290.0 280.0,292.7 281.4,295.9 278.7,295.3 277.6,298.7 272.0,299.8 264.2,299.2 257.0,302.0 254.2,304.2 254.0,299.0 250.8,295.0 249.0,289.0 250.0,284.0 246.7,279.0Z" fill="#8cff8c" stroke="rgba(255,255,255,0.45)" stroke-width="0.5" stroke-linejoin="round"/>
<path d="M241.4,312.0 247.6,308.7 254.2,304.2 257.0,302.0 264.2,299.2 272.0,299.8 277.6,298.7 278.7,295.3 281.4,295.9 280.9,302.0 277.6,303.1 270.9,303.7 267.6,305.3 264.2,307.0 265.3,309.8 267.5,312.5 266.5,313.3 264.5,311.0 264.5,314.0 263.0,314.0 262.0,310.5 259.5,309.3 255.9,311.4 254.8,314.2 257.0,318.1 259.2,322.6 258.1,325.3 262.0,324.2 265.3,326.4 269.8,329.8 272.0,332.6 270.9,333.7 270.3,335.9 266.4,334.8 264.2,337.6 265.3,339.8 262.6,342.0 264.2,346.4 262.6,349.2 260.3,347.6 258.7,350.9 255.9,347.6 254.2,349.2 252.6,346.4 250.3,342.6 247.6,338.7 248.5,335.5 246.4,332.6 243.1,328.7 239.8,324.8 238.1,321.4 240.3,317.6ZM270.9,359.2 276.4,358.1 283.1,358.7 288.7,357.6 293.1,357.6 293.7,358.7 289.8,360.3 284.2,362.0 278.7,362.6 273.1,362.0 270.9,361.0ZM281.4,318.3 286.4,318.5 286.6,320.2 283.5,320.6 281.4,319.8ZM284.8,324.5 286.2,324.5 286.3,327.0 284.8,327.0ZM290.3,331.3 292.6,331.3 292.6,332.8 290.3,332.8ZM304.2,342.0 305.9,343.5 304.6,347.6 303.2,347.6 303.4,344.2ZM233.2,319.5 234.6,320.3 235.5,323.0 234.2,322.8ZM241.6,335.0 243.8,335.0 244.0,337.8 241.8,337.5ZM244.2,339.0 245.8,339.2 245.6,341.0 244.2,340.6ZM240.8,331.5 242.0,331.5 242.0,334.0 240.8,334.0ZM268.0,302.6 270.0,302.6 270.0,304.4 268.0,304.4ZM274.0,312.0 276.6,312.0 276.6,314.0 274.0,314.0ZM274.5,336.0 276.0,336.0 276.5,338.0 275.0,338.3ZM277.5,339.0 279.0,338.8 279.6,340.6 278.0,341.0ZM279.5,343.5 282.2,343.2 282.4,345.2 280.0,345.5ZM283.2,340.2 285.0,340.0 285.0,342.0 283.4,342.0ZM275.5,344.8 277.2,344.6 277.4,346.4 275.7,346.6ZM288.0,336.6 289.8,336.6 289.8,338.4 288.0,338.4ZM294.5,339.0 296.8,339.5 296.4,341.0 294.5,340.6ZM262.8,320.5 265.0,320.7 264.8,322.0 262.8,321.8Z" fill="#fab0b4" stroke="rgba(255,255,255,0.45)" stroke-width="0.5" stroke-linejoin="round"/>
<path d="M338.7,344.5 342.8,340.8 347.0,339.1 351.2,335.8 354.1,333.7 352.8,337.5 352.0,341.6 348.7,344.1 346.2,346.2 342.8,347.9 340.3,347.0Z" fill="#f0606a" stroke="rgba(255,255,255,0.45)" stroke-width="0.5" stroke-linejoin="round"/>
<path d="M192.0,364.0 194.0,365.0 196.0,367.0 194.5,367.0 192.0,365.5Z" fill="#fab0b4" stroke="rgba(255,255,255,0.45)" stroke-width="0.5" stroke-linejoin="round"/>
<path d="M130.6,196.7 132.2,195.6 133.3,198.9 131.7,203.3 130.6,203.9 131.1,200.0Z" fill="#fff"/>
<circle cx="99.7" cy="297.2" r="1.2" fill="#808080"/>
<circle cx="139.7" cy="289" r="1.0" fill="#808080"/>
<circle cx="177.3" cy="286.8" r="1.2" fill="#808080"/>
<circle cx="80" cy="226" r="1.5" fill="#808080"/>
<circle cx="82.9" cy="230" r="1.5" fill="#808080"/>
<circle cx="76.7" cy="178.9" r="1.0" fill="#808080"/>
<path d="M280.9,302.0 277.6,303.9 277.6,315.0 275.3,316.1" fill="none" stroke="#fab0b4" stroke-opacity="0.55" stroke-width="0.6"/>
<path d="M281.4,326.1 285.3,326.1 285.3,329.5 287.6,330.6 287.6,336.1 292.6,332.8 294.2,331.7 296.4,340.6 298.7,341.7 304.2,345.0 305.3,348.4 304.2,350.6 300.3,352.8 299.8,358.4 294.2,359.5" fill="none" stroke="#fab0b4" stroke-opacity="0.55" stroke-width="0.6"/>
<path d="M265.9,352.8 265.9,360.0 272.0,360.0" fill="none" stroke="#fab0b4" stroke-opacity="0.55" stroke-width="0.6"/>
<path d="M276.4,335.0 280.9,338.4 279.8,342.8 284.2,341.7 285.3,345.0 286.4,348.4" fill="none" stroke="#fab0b4" stroke-opacity="0.55" stroke-width="0.6"/>
<path d="M275.9,339.5 277.6,345.0 276.4,347.2" fill="none" stroke="#fab0b4" stroke-opacity="0.55" stroke-width="0.6"/>
<path d="M268.0,314.0 272.0,316.0 274.8,315.6" fill="none" stroke="#fab0b4" stroke-opacity="0.55" stroke-width="0.6"/>
<path d="M264.0,322.0 268.0,321.0 271.0,324.0 275.0,327.0 281.4,326.1" fill="none" stroke="#fab0b4" stroke-opacity="0.55" stroke-width="0.6"/>
<path d="M249.0,335.6 255.0,334.2 261.5,333.6" fill="none" stroke="#fff" stroke-width="0.7"/>
<path d="M135.8,294.3 135.8,301.8 150.0,301.8" fill="none" stroke="#00dc00" stroke-opacity="0.6" stroke-width="0.6"/>
<path d="M158.3,316.8 181.7,316.8 181.7,311.8" fill="none" stroke="#00dc00" stroke-opacity="0.6" stroke-width="0.6"/>
<path d="M167.5,356.8 176.7,356.8" fill="none" stroke="#00dc00" stroke-opacity="0.6" stroke-width="0.6"/>
<path d="M56.7,350.0 56.7,365.0" fill="none" stroke="#00dc00" stroke-opacity="0.6" stroke-width="0.6"/>
<path d="M93.0,332.7 106.7,331.0 116.7,326.0" fill="none" stroke="#00dc00" stroke-opacity="0.6" stroke-width="0.6"/>
<path d="M96.7,131.7 102.8,131.7 103.3,127.8" fill="none" stroke="#009600" stroke-opacity="0.6" stroke-width="0.6"/>
<path d="M208.3,124.4 214.4,124.4" fill="none" stroke="#00dc00" stroke-opacity="0.6" stroke-width="0.6"/>
<path d="M193.9,163.9 196.7,154.4 201.7,154.4" fill="none" stroke="#009600" stroke-opacity="0.6" stroke-width="0.6"/>
<path d="M171.7,179.1 186.7,179.1 186.7,177.8" fill="none" stroke="#808080" stroke-opacity="0.6" stroke-width="0.6"/>
<path d="M215.6,173.0 215.6,127.2 226.7,127.2 232.2,122.8 247.2,122.5" fill="none" stroke="#b8b8b8" stroke-width="0.5"/>
</g></g>
<rect x="359.9" y="0" width="1.7" height="368" fill="#000"/>
<rect x="359.5" y="368" width="2.3" height="369" fill="#000"/>
<rect x="0" y="368" width="720" height="1.8" fill="#000"/>
<rect x="0" y="369" width="1.3" height="368" fill="#000"/>
<rect x="360" y="735.8" width="360" height="1.2" fill="#000"/>
<text x="3.75" y="10.80" class="tt" textLength="190.40" lengthAdjust="spacingAndGlyphs">Would you feel comfortable if one of your children</text>
<text x="3.75" y="21.50" class="tt" textLength="157.00" lengthAdjust="spacingAndGlyphs">was in a relationship with a Black person?</text>
<text x="3.90" y="31.20" class="sub" textLength="50.00" lengthAdjust="spacingAndGlyphs">(% comfortable)</text>
<rect x="3.50" y="37.50" width="12" height="10.4" fill="#005000" stroke="#000" stroke-width="1"/>
<text x="18.50" y="45.30" class="lb" textLength="32.22" lengthAdjust="spacingAndGlyphs">90-100%</text>
<rect x="3.50" y="51.07" width="12" height="10.4" fill="#009600" stroke="#000" stroke-width="1"/>
<text x="18.50" y="58.87" class="lb" textLength="27.75" lengthAdjust="spacingAndGlyphs">80-89%</text>
<rect x="3.50" y="64.64" width="12" height="10.4" fill="#00dc00" stroke="#000" stroke-width="1"/>
<text x="18.50" y="72.44" class="lb" textLength="27.75" lengthAdjust="spacingAndGlyphs">70-79%</text>
<rect x="3.50" y="78.21" width="12" height="10.4" fill="#3cff3c" stroke="#000" stroke-width="1"/>
<text x="18.50" y="86.01" class="lb" textLength="27.75" lengthAdjust="spacingAndGlyphs">60-69%</text>
<rect x="3.50" y="91.78" width="12" height="10.4" fill="#8cff8c" stroke="#000" stroke-width="1"/>
<text x="18.50" y="99.58" class="lb" textLength="27.75" lengthAdjust="spacingAndGlyphs">50-59%</text>
<rect x="3.50" y="105.35" width="12" height="10.4" fill="#fab0b4" stroke="#000" stroke-width="1"/>
<text x="18.50" y="113.15" class="lb" textLength="27.75" lengthAdjust="spacingAndGlyphs">40-49%</text>
<rect x="3.50" y="118.92" width="12" height="10.4" fill="#f0606a" stroke="#000" stroke-width="1"/>
<text x="18.50" y="126.72" class="lb" textLength="27.75" lengthAdjust="spacingAndGlyphs">30-39%</text>
<rect x="3.50" y="132.49" width="12" height="10.4" fill="#ec1020" stroke="#000" stroke-width="1"/>
<text x="18.50" y="140.29" class="lb" textLength="27.75" lengthAdjust="spacingAndGlyphs">20-29%</text>
<rect x="3.50" y="146.06" width="12" height="10.4" fill="#a00810" stroke="#000" stroke-width="1"/>
<text x="18.50" y="153.86" class="lb" textLength="27.75" lengthAdjust="spacingAndGlyphs">10-19%</text>
<rect x="4.50" y="159.63" width="12" height="10.4" fill="#808080" stroke="#000" stroke-width="1"/>
<text x="19.80" y="167.43" class="lb" textLength="13.42" lengthAdjust="spacingAndGlyphs">N/A</text>
<text x="8.90" y="260.00" class="avg" textLength="55.00" lengthAdjust="spacingAndGlyphs">EU average: 64%</text>
<text x="364.90" y="11.70" class="tt" textLength="190.30" lengthAdjust="spacingAndGlyphs">Would you feel comfortable if one of your children</text>
<text x="364.90" y="22.70" class="tt" textLength="162.70" lengthAdjust="spacingAndGlyphs">was in a relationship with an Asian person?</text>
<text x="365.05" y="32.60" class="sub" textLength="50.00" lengthAdjust="spacingAndGlyphs">(% comfortable)</text>
<rect x="364.60" y="39.90" width="12" height="10.4" fill="#005000" stroke="#000" stroke-width="1"/>
<text x="379.70" y="47.70" class="lb" textLength="32.22" lengthAdjust="spacingAndGlyphs">90-100%</text>
<rect x="364.60" y="53.47" width="12" height="10.4" fill="#009600" stroke="#000" stroke-width="1"/>
<text x="379.70" y="61.27" class="lb" textLength="27.75" lengthAdjust="spacingAndGlyphs">80-89%</text>
<rect x="364.60" y="67.04" width="12" height="10.4" fill="#00dc00" stroke="#000" stroke-width="1"/>
<text x="379.70" y="74.84" class="lb" textLength="27.75" lengthAdjust="spacingAndGlyphs">70-79%</text>
<rect x="364.60" y="80.61" width="12" height="10.4" fill="#3cff3c" stroke="#000" stroke-width="1"/>
<text x="379.70" y="88.41" class="lb" textLength="27.75" lengthAdjust="spacingAndGlyphs">60-69%</text>
<rect x="364.60" y="94.18" width="12" height="10.4" fill="#8cff8c" stroke="#000" stroke-width="1"/>
<text x="379.70" y="101.98" class="lb" textLength="27.75" lengthAdjust="spacingAndGlyphs">50-59%</text>
<rect x="364.60" y="107.75" width="12" height="10.4" fill="#fab0b4" stroke="#000" stroke-width="1"/>
<text x="379.70" y="115.55" class="lb" textLength="27.75" lengthAdjust="spacingAndGlyphs">40-49%</text>
<rect x="364.60" y="121.32" width="12" height="10.4" fill="#f0606a" stroke="#000" stroke-width="1"/>
<text x="379.70" y="129.12" class="lb" textLength="27.75" lengthAdjust="spacingAndGlyphs">30-39%</text>
<rect x="364.60" y="134.89" width="12" height="10.4" fill="#ec1020" stroke="#000" stroke-width="1"/>
<text x="379.70" y="142.69" class="lb" textLength="27.75" lengthAdjust="spacingAndGlyphs">20-29%</text>
<rect x="364.60" y="148.46" width="12" height="10.4" fill="#a00810" stroke="#000" stroke-width="1"/>
<text x="379.70" y="156.26" class="lb" textLength="27.75" lengthAdjust="spacingAndGlyphs">10-19%</text>
<rect x="365.60" y="162.03" width="12" height="10.4" fill="#808080" stroke="#000" stroke-width="1"/>
<text x="381.00" y="169.83" class="lb" textLength="13.42" lengthAdjust="spacingAndGlyphs">N/A</text>
<text x="370.90" y="255.90" class="avg" textLength="55.00" lengthAdjust="spacingAndGlyphs">EU average: 69%</text>
<text x="6.90" y="384.00" class="tt" textLength="190.00" lengthAdjust="spacingAndGlyphs">Would you feel comfortable if one of your children</text>
<text x="6.90" y="394.90" class="tt" textLength="136.85" lengthAdjust="spacingAndGlyphs">was in a relationship with a Muslim?</text>
<text x="7.05" y="404.80" class="sub" textLength="50.00" lengthAdjust="spacingAndGlyphs">(% comfortable)</text>
<rect x="4.70" y="411.50" width="12" height="10.4" fill="#005000" stroke="#000" stroke-width="1"/>
<text x="20.60" y="419.30" class="lb" textLength="32.22" lengthAdjust="spacingAndGlyphs">90-100%</text>
<rect x="4.70" y="425.07" width="12" height="10.4" fill="#009600" stroke="#000" stroke-width="1"/>
<text x="20.60" y="432.87" class="lb" textLength="27.75" lengthAdjust="spacingAndGlyphs">80-89%</text>
<rect x="4.70" y="438.64" width="12" height="10.4" fill="#00dc00" stroke="#000" stroke-width="1"/>
<text x="20.60" y="446.44" class="lb" textLength="27.75" lengthAdjust="spacingAndGlyphs">70-79%</text>
<rect x="4.70" y="452.21" width="12" height="10.4" fill="#3cff3c" stroke="#000" stroke-width="1"/>
<text x="20.60" y="460.01" class="lb" textLength="27.75" lengthAdjust="spacingAndGlyphs">60-69%</text>
<rect x="4.70" y="465.78" width="12" height="10.4" fill="#8cff8c" stroke="#000" stroke-width="1"/>
<text x="20.60" y="473.58" class="lb" textLength="27.75" lengthAdjust="spacingAndGlyphs">50-59%</text>
<rect x="4.70" y="479.35" width="12" height="10.4" fill="#fab0b4" stroke="#000" stroke-width="1"/>
<text x="20.60" y="487.15" class="lb" textLength="27.75" lengthAdjust="spacingAndGlyphs">40-49%</text>
<rect x="4.70" y="492.92" width="12" height="10.4" fill="#f0606a" stroke="#000" stroke-width="1"/>
<text x="20.60" y="500.72" class="lb" textLength="27.75" lengthAdjust="spacingAndGlyphs">30-39%</text>
<rect x="4.70" y="506.49" width="12" height="10.4" fill="#ec1020" stroke="#000" stroke-width="1"/>
<text x="20.60" y="514.29" class="lb" textLength="27.75" lengthAdjust="spacingAndGlyphs">20-29%</text>
<rect x="4.70" y="520.06" width="12" height="10.4" fill="#a00810" stroke="#000" stroke-width="1"/>
<text x="20.60" y="527.86" class="lb" textLength="27.75" lengthAdjust="spacingAndGlyphs">10-19%</text>
<rect x="5.70" y="533.63" width="12" height="10.4" fill="#808080" stroke="#000" stroke-width="1"/>
<text x="21.90" y="541.43" class="lb" textLength="13.42" lengthAdjust="spacingAndGlyphs">N/A</text>
<text x="8.90" y="625.90" class="avg" textLength="55.00" lengthAdjust="spacingAndGlyphs">EU average: 50%</text>
<text x="367.80" y="381.60" class="tt" textLength="157.20" lengthAdjust="spacingAndGlyphs">Would you feel comfortable if one of your</text>
<text x="367.80" y="392.70" class="tt" textLength="155.20" lengthAdjust="spacingAndGlyphs">children was in a relationship with a Jew?</text>
<text x="367.95" y="402.60" class="sub" textLength="50.00" lengthAdjust="spacingAndGlyphs">(% comfortable)</text>
<rect x="367.20" y="411.50" width="12" height="10.4" fill="#005000" stroke="#000" stroke-width="1"/>
<text x="383.00" y="419.30" class="lb" textLength="32.22" lengthAdjust="spacingAndGlyphs">90-100%</text>
<rect x="367.20" y="425.07" width="12" height="10.4" fill="#009600" stroke="#000" stroke-width="1"/>
<text x="383.00" y="432.87" class="lb" textLength="27.75" lengthAdjust="spacingAndGlyphs">80-89%</text>
<rect x="367.20" y="438.64" width="12" height="10.4" fill="#00dc00" stroke="#000" stroke-width="1"/>
<text x="383.00" y="446.44" class="lb" textLength="27.75" lengthAdjust="spacingAndGlyphs">70-79%</text>
<rect x="367.20" y="452.21" width="12" height="10.4" fill="#3cff3c" stroke="#000" stroke-width="1"/>
<text x="383.00" y="460.01" class="lb" textLength="27.75" lengthAdjust="spacingAndGlyphs">60-69%</text>
<rect x="367.20" y="465.78" width="12" height="10.4" fill="#8cff8c" stroke="#000" stroke-width="1"/>
<text x="383.00" y="473.58" class="lb" textLength="27.75" lengthAdjust="spacingAndGlyphs">50-59%</text>
<rect x="367.20" y="479.35" width="12" height="10.4" fill="#fab0b4" stroke="#000" stroke-width="1"/>
<text x="383.00" y="487.15" class="lb" textLength="27.75" lengthAdjust="spacingAndGlyphs">40-49%</text>
<rect x="367.20" y="492.92" width="12" height="10.4" fill="#f0606a" stroke="#000" stroke-width="1"/>
<text x="383.00" y="500.72" class="lb" textLength="27.75" lengthAdjust="spacingAndGlyphs">30-39%</text>
<rect x="367.20" y="506.49" width="12" height="10.4" fill="#ec1020" stroke="#000" stroke-width="1"/>
<text x="383.00" y="514.29" class="lb" textLength="27.75" lengthAdjust="spacingAndGlyphs">20-29%</text>
<rect x="367.20" y="520.06" width="12" height="10.4" fill="#a00810" stroke="#000" stroke-width="1"/>
<text x="383.00" y="527.86" class="lb" textLength="27.75" lengthAdjust="spacingAndGlyphs">10-19%</text>
<rect x="368.20" y="533.63" width="12" height="10.4" fill="#808080" stroke="#000" stroke-width="1"/>
<text x="384.30" y="541.43" class="lb" textLength="13.42" lengthAdjust="spacingAndGlyphs">N/A</text>
<text x="368.90" y="620.90" class="avg" textLength="55.00" lengthAdjust="spacingAndGlyphs">EU average: 69%</text>
<ellipse cx="102.5" cy="437.1" rx="16.6" ry="17.6" fill="#078007"/><circle cx="107.35" cy="437.5" r="14.95" fill="#fff"/>
<polygon points="123.70,437.30 118.65,439.00 118.59,444.34 115.40,440.06 110.31,441.65 113.40,437.30 110.31,432.95 115.40,434.54 118.59,430.26 118.65,435.60" fill="#078007"/>
<g fill="none" stroke="#1616ee" stroke-width="4.1" stroke-linejoin="miter"><polygon points="463.30,417.55 481.21,447.10 445.39,447.10"/><polygon points="463.30,456.95 445.39,427.40 481.21,427.40"/></g>
<text x="676.70" y="724.30" class="cr" textLength="24.80" lengthAdjust="spacingAndGlyphs">map by</text>
<text x="676.70" y="733.00" class="cr crb" textLength="39.40" lengthAdjust="spacingAndGlyphs">bezzleford</text>
</svg></body></html>
